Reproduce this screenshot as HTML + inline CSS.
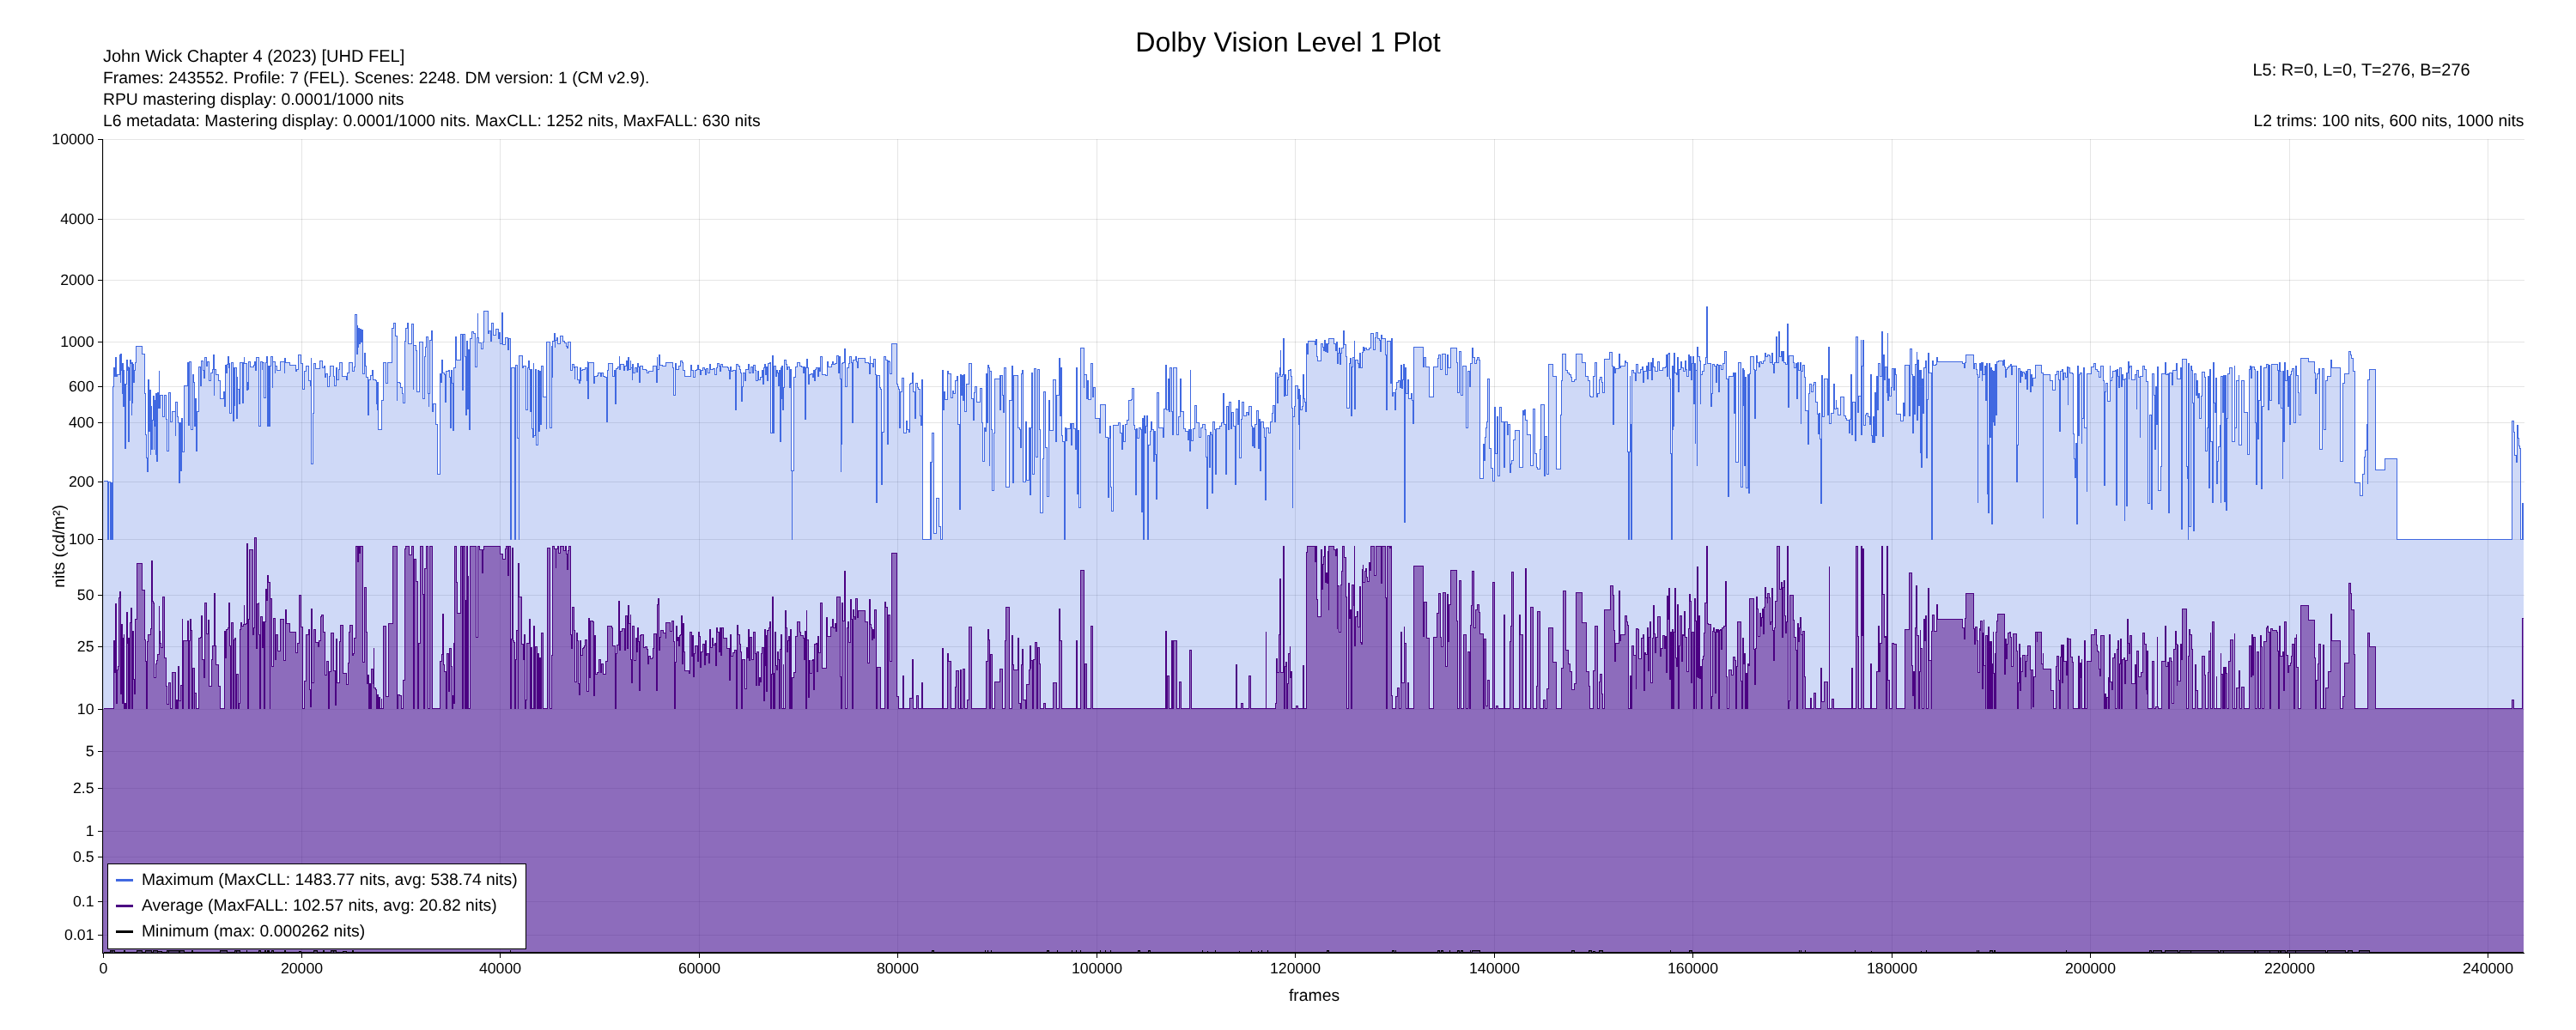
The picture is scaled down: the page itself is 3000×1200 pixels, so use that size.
<!DOCTYPE html><html><head><meta charset="utf-8"><title>Dolby Vision Level 1 Plot</title><style>html,body{margin:0;padding:0;background:#fff}body{width:3000px;height:1200px;overflow:hidden}</style></head><body><svg width="3000" height="1200" viewBox="0 0 3000 1200" style="display:block;will-change:transform;font-family:'Liberation Sans',sans-serif" text-rendering="geometricPrecision">
<rect width="3000" height="1200" fill="#fff"/>
<g shape-rendering="crispEdges" stroke="#000" stroke-opacity="0.1" stroke-width="1">
<path d="M120.5,162V1110"/>
<path d="M351.5,162V1110"/>
<path d="M582.5,162V1110"/>
<path d="M814.5,162V1110"/>
<path d="M1045.5,162V1110"/>
<path d="M1277.5,162V1110"/>
<path d="M1508.5,162V1110"/>
<path d="M1740.5,162V1110"/>
<path d="M1971.5,162V1110"/>
<path d="M2203.5,162V1110"/>
<path d="M2434.5,162V1110"/>
<path d="M2666.5,162V1110"/>
<path d="M2897.5,162V1110"/>
<path d="M120,1089.5H2940"/>
<path d="M120,1050.5H2940"/>
<path d="M120,998.5H2940"/>
<path d="M120,968.5H2940"/>
<path d="M120,918.5H2940"/>
<path d="M120,875.5H2940"/>
<path d="M120,826.5H2940"/>
<path d="M120,753.5H2940"/>
<path d="M120,693.5H2940"/>
<path d="M120,628.5H2940"/>
<path d="M120,561.5H2940"/>
<path d="M120,492.5H2940"/>
<path d="M120,450.5H2940"/>
<path d="M120,398.5H2940"/>
<path d="M120,326.5H2940"/>
<path d="M120,255.5H2940"/>
<path d="M120,162.5H2940"/>
</g>
<path shape-rendering="crispEdges" d="M120,560.5H125.5V628.5H126.5V561.5H128.5V628.5H129.5V562.5H130.5V628.5H131.5V450.5H132.5V428.5H133.5V438.5H134.5V416.5H135.5V438.5H136.5V436.5H138.5V436.5H139.5V413.5H140.5V445.5H140.5V412.5H141.5V431.5H142.5V458.5H142.5V423.5H143.5V473.5H144.5V431.5H144.5V447.5H145.5V522.5H146.5V447.5H147.5V419.5H148.5V431.5H148.5V427.5H149.5V514.5H150.5V428.5H151.5V466.5H151.5V419.5H152.5V423.5H153.5V483.5H153.5V422.5H154.5V469.5H154.5V424.5H155.5V445.5H156.5V431.5H157.5V422.5H158.5V403.5H165.5V412.5H168.5V458.5H169.5V506.5H170.5V533.5H171.5V549.5H172.5V483.5H172.5V442.5H173.5V502.5H174.5V454.5H175.5V529.5H175.5V473.5H176.5V523.5H177.5V489.5H178.5V461.5H179.5V523.5H179.5V466.5H180.5V496.5H181.5V529.5H181.5V458.5H182.5V480.5H182.5V537.5H183.5V457.5H184.5V475.5H185.5V432.5H185.5V475.5H186.5V460.5H189.5V485.5H191.5V460.5H193.5V488.5H194.5V525.5H196.5V457.5H198.5V491.5H200.5V479.5H204.5V507.5H204.5V468.5H206.5V485.5H207.5V492.5H208.5V562.5H209.5V492.5H210.5V548.5H211.5V487.5H212.5V526.5H214.5V449.5H218.5V422.5H219.5V495.5H220.5V421.5H222.5V423.5H222.5V500.5H224.5V436.5H225.5V445.5H226.5V496.5H227.5V464.5H228.5V525.5H229.5V479.5H231.5V427.5H233.5V449.5H234.5V420.5H236.5V431.5H237.5V440.5H238.5V416.5H240.5V426.5H241.5V421.5H243.5V443.5H245.5V434.5H247.5V430.5H248.5V413.5H249.5V460.5H249.5V430.5H251.5V436.5H254.5V443.5H256.5V464.5H260.5V456.5H261.5V473.5H262.5V425.5H263.5V434.5H264.5V424.5H265.5V415.5H266.5V428.5H267.5V423.5H267.5V481.5H269.5V422.5H271.5V490.5H272.5V428.5H273.5V472.5H273.5V428.5H275.5V487.5H276.5V439.5H276.5V453.5H278.5V470.5H279.5V422.5H282.5V469.5H283.5V422.5H284.5V416.5H284.5V423.5H287.5V454.5H288.5V445.5H288.5V453.5H289.5V421.5H291.5V427.5H295.5V425.5H296.5V421.5H297.5V431.5H298.5V416.5H301.5V421.5H301.5V496.5H303.5V421.5H305.5V430.5H305.5V422.5H307.5V463.5H309.5V422.5H310.5V415.5H311.5V496.5H312.5V426.5H313.5V496.5H314.5V426.5H315.5V415.5H317.5V451.5H317.5V421.5H320.5V434.5H320.5V426.5H322.5V431.5H326.5V421.5H331.5V434.5H331.5V417.5H332.5V422.5H337.5V425.5H344.5V432.5H345.5V430.5H347.5V413.5H350.5V423.5H352.5V453.5H354.5V432.5H356.5V426.5H359.5V443.5H361.5V449.5H362.5V417.5H362.5V540.5H364.5V481.5H365.5V423.5H367.5V429.5H372.5V420.5H375.5V428.5H377.5V426.5H378.5V439.5H379.5V435.5H381.5V450.5H383.5V438.5H384.5V426.5H388.5V438.5H389.5V449.5H391.5V428.5H392.5V442.5H394.5V430.5H395.5V422.5H398.5V438.5H403.5V442.5H404.5V434.5H406.5V422.5H410.5V432.5H412.5V427.5H413.5V366.5H415.5V412.5H416.5V379.5H416.5V404.5H417.5V382.5H418.5V400.5H419.5V383.5H420.5V398.5H421.5V384.5H422.5V435.5H424.5V411.5H425.5V426.5H426.5V439.5H428.5V443.5H428.5V483.5H429.5V442.5H431.5V437.5H433.5V431.5H434.5V442.5H437.5V443.5H438.5V470.5H439.5V477.5H439.5V445.5H440.5V500.5H444.5V466.5H446.5V422.5H449.5V446.5H451.5V422.5H456.5V382.5H458.5V376.5H460.5V391.5H462.5V466.5H462.5V445.5H465.5V446.5H466.5V451.5H468.5V458.5H469.5V469.5H471.5V397.5H472.5V382.5H474.5V376.5H475.5V400.5H479.5V377.5H481.5V453.5H481.5V402.5H484.5V408.5H485.5V456.5H488.5V422.5H488.5V398.5H492.5V464.5H494.5V415.5H495.5V404.5H496.5V392.5H498.5V458.5H499.5V473.5H499.5V458.5H500.5V396.5H502.5V385.5H503.5V479.5H504.5V470.5H507.5V494.5H509.5V552.5H512.5V435.5H513.5V445.5H514.5V419.5H515.5V434.5H517.5V436.5H518.5V468.5H519.5V432.5H522.5V431.5H523.5V439.5H524.5V498.5H525.5V431.5H526.5V446.5H527.5V501.5H528.5V428.5H530.5V392.5H531.5V419.5H536.5V389.5H538.5V454.5H539.5V389.5H541.5V415.5H542.5V483.5H543.5V397.5H544.5V476.5H545.5V407.5H546.5V500.5H547.5V394.5H549.5V386.5H551.5V388.5H553.5V427.5H555.5V393.5H556.5V365.5H556.5V393.5H557.5V399.5H560.5V406.5H562.5V398.5H563.5V362.5H568.5V388.5H569.5V385.5H571.5V397.5H572.5V376.5H574.5V390.5H577.5V383.5H580.5V394.5H581.5V387.5H582.5V400.5H584.5V364.5H585.5V401.5H588.5V393.5H591.5V407.5H592.5V394.5H594.5V628.5H595.5V428.5H599.5V628.5H600.5V425.5H602.5V510.5H604.5V628.5H604.5V414.5H608.5V428.5H609.5V426.5H612.5V461.5H612.5V477.5H614.5V428.5H615.5V420.5H616.5V430.5H617.5V479.5H618.5V430.5H619.5V499.5H620.5V509.5H621.5V423.5H621.5V507.5H623.5V430.5H624.5V510.5H624.5V518.5H626.5V431.5H627.5V502.5H628.5V432.5H629.5V494.5H630.5V443.5H630.5V426.5H632.5V462.5H636.5V499.5H636.5V398.5H640.5V498.5H642.5V403.5H643.5V439.5H643.5V397.5H645.5V388.5H646.5V404.5H646.5V396.5H648.5V393.5H649.5V400.5H652.5V391.5H655.5V397.5H657.5V399.5H659.5V403.5H660.5V405.5H661.5V398.5H664.5V426.5H664.5V431.5H666.5V424.5H668.5V428.5H669.5V441.5H669.5V427.5H672.5V442.5H674.5V446.5H675.5V428.5H676.5V443.5H676.5V431.5H678.5V430.5H681.5V428.5H683.5V443.5H684.5V421.5H684.5V464.5H685.5V422.5H691.5V446.5H692.5V438.5H695.5V437.5H696.5V434.5H699.5V438.5H700.5V434.5H702.5V438.5H704.5V439.5H706.5V441.5H706.5V491.5H707.5V431.5H708.5V423.5H713.5V438.5H715.5V431.5H716.5V470.5H717.5V429.5H719.5V427.5H721.5V415.5H721.5V430.5H722.5V424.5H726.5V431.5H727.5V426.5H729.5V420.5H730.5V431.5H731.5V416.5H732.5V430.5H734.5V420.5H734.5V428.5H736.5V442.5H736.5V424.5H737.5V434.5H739.5V428.5H741.5V433.5H742.5V423.5H743.5V427.5H744.5V445.5H745.5V426.5H748.5V430.5H752.5V431.5H753.5V434.5H755.5V432.5H760.5V426.5H764.5V445.5H765.5V416.5H765.5V430.5H767.5V413.5H768.5V425.5H771.5V426.5H775.5V422.5H783.5V428.5H784.5V460.5H786.5V423.5H787.5V430.5H790.5V426.5H792.5V420.5H794.5V422.5H795.5V431.5H797.5V438.5H804.5V425.5H805.5V431.5H807.5V439.5H809.5V431.5H811.5V430.5H812.5V425.5H813.5V430.5H815.5V436.5H816.5V431.5H818.5V428.5H820.5V430.5H821.5V436.5H822.5V429.5H824.5V434.5H826.5V424.5H827.5V430.5H830.5V429.5H832.5V436.5H834.5V428.5H835.5V423.5H837.5V426.5H838.5V432.5H839.5V424.5H841.5V427.5H847.5V428.5H848.5V431.5H849.5V441.5H850.5V427.5H851.5V432.5H853.5V431.5H856.5V477.5H857.5V424.5H859.5V426.5H861.5V430.5H862.5V434.5H863.5V467.5H864.5V450.5H865.5V434.5H867.5V443.5H868.5V430.5H871.5V428.5H871.5V424.5H872.5V434.5H874.5V427.5H876.5V434.5H877.5V425.5H879.5V431.5H880.5V443.5H882.5V432.5H883.5V442.5H885.5V439.5H887.5V431.5H888.5V447.5H889.5V428.5H890.5V424.5H891.5V436.5H892.5V427.5H893.5V443.5H894.5V423.5H896.5V422.5H897.5V504.5H899.5V414.5H900.5V489.5H900.5V504.5H901.5V426.5H903.5V438.5H904.5V431.5H905.5V434.5H906.5V449.5H907.5V431.5H908.5V514.5H909.5V428.5H909.5V464.5H910.5V426.5H911.5V477.5H912.5V451.5H913.5V419.5H915.5V424.5H916.5V430.5H917.5V427.5H919.5V451.5H920.5V430.5H921.5V548.5H922.5V628.5H922.5V548.5H924.5V439.5H926.5V427.5H928.5V422.5H931.5V426.5H933.5V427.5H935.5V434.5H936.5V427.5H937.5V488.5H938.5V428.5H939.5V418.5H940.5V428.5H941.5V447.5H942.5V436.5H944.5V435.5H946.5V439.5H947.5V431.5H948.5V443.5H949.5V430.5H950.5V428.5H952.5V438.5H953.5V428.5H954.5V432.5H955.5V415.5H957.5V436.5H961.5V437.5H963.5V421.5H964.5V427.5H968.5V424.5H969.5V421.5H970.5V424.5H972.5V423.5H974.5V414.5H976.5V434.5H977.5V415.5H978.5V441.5H979.5V549.5H979.5V517.5H980.5V423.5H981.5V422.5H983.5V406.5H984.5V450.5H986.5V428.5H988.5V423.5H989.5V415.5H991.5V422.5H992.5V492.5H993.5V419.5H996.5V415.5H997.5V421.5H998.5V428.5H999.5V417.5H1007.5V422.5H1011.5V423.5H1012.5V435.5H1013.5V415.5H1013.5V423.5H1016.5V427.5H1017.5V418.5H1019.5V436.5H1020.5V585.5H1021.5V437.5H1024.5V451.5H1025.5V453.5H1026.5V564.5H1027.5V503.5H1029.5V415.5H1031.5V419.5H1033.5V517.5H1034.5V420.5H1035.5V421.5H1036.5V435.5H1038.5V400.5H1044.5V447.5H1045.5V450.5H1046.5V453.5H1047.5V498.5H1048.5V456.5H1050.5V440.5H1052.5V492.5H1052.5V504.5H1055.5V490.5H1056.5V500.5H1058.5V503.5H1059.5V447.5H1060.5V446.5H1062.5V434.5H1063.5V456.5H1065.5V487.5H1066.5V446.5H1068.5V451.5H1069.5V453.5H1071.5V484.5H1072.5V495.5H1073.5V442.5H1074.5V628.5H1083.5V538.5H1083.5V628.5H1084.5V538.5H1085.5V504.5H1087.5V621.5H1090.5V580.5H1093.5V613.5H1095.5V628.5H1097.5V431.5H1098.5V477.5H1099.5V456.5H1100.5V465.5H1103.5V432.5H1104.5V435.5H1107.5V463.5H1109.5V455.5H1110.5V458.5H1112.5V443.5H1114.5V438.5H1115.5V494.5H1117.5V593.5H1118.5V436.5H1119.5V460.5H1120.5V437.5H1121.5V466.5H1122.5V436.5H1123.5V479.5H1125.5V447.5H1128.5V423.5H1131.5V464.5H1133.5V489.5H1134.5V457.5H1135.5V450.5H1137.5V468.5H1141.5V452.5H1143.5V492.5H1144.5V537.5H1146.5V498.5H1147.5V502.5H1148.5V435.5H1149.5V492.5H1150.5V425.5H1151.5V428.5H1152.5V542.5H1152.5V432.5H1154.5V500.5H1155.5V571.5H1157.5V504.5H1158.5V441.5H1164.5V437.5H1164.5V477.5H1165.5V437.5H1167.5V460.5H1168.5V480.5H1169.5V428.5H1171.5V567.5H1175.5V466.5H1178.5V426.5H1179.5V562.5H1180.5V437.5H1185.5V498.5H1187.5V500.5H1188.5V521.5H1189.5V435.5H1190.5V431.5H1191.5V561.5H1194.5V491.5H1195.5V559.5H1198.5V498.5H1199.5V576.5H1200.5V498.5H1201.5V434.5H1202.5V552.5H1204.5V429.5H1206.5V532.5H1208.5V430.5H1210.5V500.5H1211.5V597.5H1214.5V534.5H1215.5V456.5H1217.5V521.5H1219.5V578.5H1221.5V466.5H1222.5V501.5H1226.5V442.5H1229.5V514.5H1230.5V460.5H1233.5V417.5H1234.5V484.5H1235.5V428.5H1236.5V507.5H1237.5V514.5H1239.5V628.5H1240.5V498.5H1241.5V513.5H1242.5V499.5H1246.5V493.5H1247.5V518.5H1248.5V493.5H1250.5V499.5H1252.5V523.5H1253.5V428.5H1254.5V575.5H1255.5V501.5H1256.5V591.5H1258.5V405.5H1262.5V451.5H1262.5V436.5H1265.5V464.5H1266.5V443.5H1267.5V465.5H1270.5V423.5H1272.5V462.5H1273.5V451.5H1275.5V487.5H1280.5V504.5H1281.5V471.5H1287.5V502.5H1287.5V509.5H1290.5V579.5H1291.5V510.5H1292.5V496.5H1293.5V567.5H1294.5V595.5H1296.5V495.5H1302.5V492.5H1304.5V504.5H1306.5V523.5H1307.5V495.5H1308.5V514.5H1310.5V494.5H1312.5V489.5H1314.5V466.5H1317.5V465.5H1318.5V452.5H1320.5V495.5H1321.5V500.5H1322.5V576.5H1323.5V499.5H1324.5V510.5H1326.5V498.5H1328.5V500.5H1329.5V596.5H1330.5V487.5H1331.5V628.5H1332.5V484.5H1333.5V504.5H1334.5V496.5H1335.5V484.5H1336.5V628.5H1337.5V518.5H1339.5V502.5H1340.5V491.5H1341.5V500.5H1343.5V537.5H1344.5V502.5H1345.5V529.5H1346.5V581.5H1347.5V457.5H1349.5V498.5H1351.5V498.5H1354.5V509.5H1355.5V476.5H1357.5V425.5H1358.5V477.5H1360.5V441.5H1361.5V479.5H1362.5V428.5H1364.5V479.5H1365.5V506.5H1366.5V428.5H1370.5V506.5H1372.5V485.5H1374.5V441.5H1375.5V479.5H1378.5V499.5H1380.5V502.5H1383.5V512.5H1384.5V500.5H1385.5V525.5H1386.5V431.5H1386.5V500.5H1387.5V513.5H1389.5V499.5H1391.5V472.5H1393.5V492.5H1396.5V509.5H1398.5V498.5H1400.5V494.5H1403.5V500.5H1404.5V532.5H1405.5V592.5H1406.5V507.5H1408.5V544.5H1409.5V503.5H1410.5V506.5H1411.5V574.5H1412.5V491.5H1414.5V500.5H1415.5V552.5H1416.5V499.5H1420.5V496.5H1422.5V492.5H1424.5V458.5H1425.5V494.5H1427.5V552.5H1428.5V473.5H1430.5V500.5H1431.5V468.5H1433.5V499.5H1434.5V480.5H1436.5V496.5H1438.5V564.5H1439.5V476.5H1441.5V494.5H1442.5V466.5H1443.5V533.5H1445.5V488.5H1446.5V468.5H1448.5V484.5H1451.5V480.5H1453.5V483.5H1454.5V473.5H1457.5V496.5H1458.5V519.5H1459.5V498.5H1460.5V521.5H1461.5V494.5H1463.5V478.5H1465.5V522.5H1466.5V488.5H1467.5V548.5H1468.5V491.5H1471.5V498.5H1472.5V509.5H1473.5V582.5H1474.5V498.5H1477.5V504.5H1479.5V491.5H1481.5V481.5H1482.5V472.5H1484.5V491.5H1485.5V434.5H1487.5V469.5H1488.5V439.5H1489.5V436.5H1490.5V428.5H1491.5V408.5H1491.5V438.5H1493.5V436.5H1494.5V394.5H1495.5V461.5H1496.5V436.5H1497.5V460.5H1499.5V442.5H1500.5V431.5H1502.5V430.5H1503.5V438.5H1504.5V475.5H1505.5V591.5H1505.5V485.5H1507.5V473.5H1508.5V449.5H1511.5V464.5H1512.5V494.5H1512.5V453.5H1513.5V523.5H1513.5V460.5H1514.5V477.5H1516.5V473.5H1517.5V436.5H1518.5V464.5H1519.5V468.5H1520.5V479.5H1521.5V400.5H1522.5V412.5H1523.5V397.5H1531.5V401.5H1532.5V395.5H1533.5V415.5H1534.5V420.5H1538.5V400.5H1540.5V404.5H1541.5V408.5H1542.5V396.5H1543.5V409.5H1544.5V400.5H1545.5V410.5H1546.5V400.5H1547.5V394.5H1553.5V400.5H1555.5V408.5H1556.5V398.5H1557.5V423.5H1558.5V411.5H1559.5V405.5H1560.5V424.5H1561.5V411.5H1562.5V405.5H1564.5V385.5H1565.5V401.5H1567.5V415.5H1568.5V475.5H1571.5V423.5H1572.5V417.5H1573.5V484.5H1574.5V427.5H1575.5V416.5H1577.5V397.5H1577.5V476.5H1578.5V419.5H1581.5V423.5H1582.5V428.5H1583.5V411.5H1584.5V428.5H1586.5V410.5H1587.5V404.5H1588.5V408.5H1589.5V405.5H1591.5V407.5H1594.5V405.5H1596.5V388.5H1599.5V407.5H1601.5V393.5H1602.5V387.5H1604.5V394.5H1606.5V396.5H1607.5V409.5H1608.5V390.5H1609.5V394.5H1613.5V413.5H1614.5V477.5H1615.5V397.5H1619.5V446.5H1620.5V394.5H1621.5V461.5H1622.5V457.5H1624.5V477.5H1625.5V453.5H1626.5V445.5H1628.5V443.5H1630.5V451.5H1631.5V425.5H1632.5V452.5H1633.5V442.5H1634.5V424.5H1635.5V608.5H1636.5V428.5H1637.5V458.5H1639.5V442.5H1640.5V464.5H1643.5V458.5H1644.5V466.5H1645.5V493.5H1646.5V404.5H1657.5V427.5H1658.5V416.5H1660.5V427.5H1664.5V462.5H1669.5V427.5H1674.5V417.5H1675.5V413.5H1677.5V430.5H1679.5V412.5H1683.5V436.5H1685.5V413.5H1686.5V428.5H1689.5V405.5H1696.5V422.5H1697.5V457.5H1699.5V409.5H1701.5V460.5H1703.5V426.5H1707.5V498.5H1709.5V432.5H1711.5V450.5H1712.5V423.5H1714.5V405.5H1715.5V416.5H1717.5V423.5H1719.5V419.5H1720.5V416.5H1722.5V419.5H1723.5V557.5H1727.5V517.5H1728.5V536.5H1729.5V509.5H1730.5V498.5H1731.5V491.5H1732.5V441.5H1734.5V522.5H1736.5V545.5H1738.5V560.5H1740.5V474.5H1741.5V528.5H1743.5V485.5H1744.5V554.5H1746.5V474.5H1748.5V491.5H1751.5V544.5H1752.5V491.5H1755.5V506.5H1756.5V494.5H1758.5V550.5H1759.5V540.5H1760.5V536.5H1762.5V512.5H1764.5V501.5H1769.5V544.5H1773.5V478.5H1774.5V483.5H1775.5V477.5H1776.5V489.5H1778.5V506.5H1782.5V542.5H1785.5V476.5H1787.5V528.5H1789.5V544.5H1790.5V546.5H1793.5V523.5H1794.5V471.5H1798.5V554.5H1799.5V508.5H1801.5V552.5H1803.5V424.5H1808.5V438.5H1812.5V546.5H1817.5V483.5H1818.5V443.5H1819.5V412.5H1823.5V431.5H1825.5V434.5H1827.5V436.5H1829.5V439.5H1830.5V444.5H1833.5V442.5H1835.5V412.5H1842.5V422.5H1846.5V438.5H1849.5V443.5H1851.5V461.5H1852.5V462.5H1855.5V438.5H1857.5V422.5H1859.5V462.5H1860.5V458.5H1862.5V442.5H1863.5V439.5H1865.5V445.5H1866.5V457.5H1868.5V418.5H1874.5V410.5H1877.5V426.5H1878.5V494.5H1879.5V427.5H1880.5V434.5H1881.5V429.5H1885.5V412.5H1886.5V428.5H1887.5V426.5H1892.5V420.5H1893.5V422.5H1895.5V526.5H1896.5V628.5H1897.5V526.5H1898.5V438.5H1898.5V494.5H1899.5V628.5H1900.5V431.5H1902.5V434.5H1904.5V443.5H1905.5V424.5H1907.5V434.5H1910.5V430.5H1912.5V427.5H1913.5V445.5H1914.5V432.5H1917.5V426.5H1918.5V441.5H1919.5V422.5H1920.5V431.5H1922.5V422.5H1923.5V442.5H1924.5V417.5H1925.5V427.5H1927.5V432.5H1930.5V421.5H1932.5V431.5H1936.5V428.5H1939.5V427.5H1940.5V413.5H1941.5V438.5H1942.5V412.5H1943.5V411.5H1944.5V441.5H1945.5V528.5H1946.5V628.5H1947.5V426.5H1948.5V500.5H1948.5V496.5H1949.5V411.5H1950.5V434.5H1952.5V436.5H1953.5V416.5H1954.5V456.5H1955.5V430.5H1957.5V421.5H1958.5V428.5H1960.5V432.5H1962.5V420.5H1963.5V430.5H1964.5V438.5H1966.5V413.5H1967.5V431.5H1968.5V415.5H1969.5V442.5H1970.5V423.5H1971.5V415.5H1972.5V470.5H1973.5V423.5H1974.5V516.5H1974.5V431.5H1976.5V542.5H1976.5V404.5H1977.5V415.5H1979.5V420.5H1980.5V470.5H1980.5V436.5H1982.5V432.5H1984.5V424.5H1986.5V416.5H1987.5V357.5H1988.5V423.5H1992.5V446.5H1992.5V473.5H1993.5V458.5H1994.5V424.5H1996.5V426.5H1998.5V445.5H1999.5V424.5H2000.5V425.5H2001.5V456.5H2002.5V425.5H2004.5V430.5H2006.5V423.5H2008.5V409.5H2010.5V441.5H2012.5V578.5H2013.5V438.5H2018.5V434.5H2019.5V481.5H2020.5V434.5H2021.5V538.5H2024.5V422.5H2027.5V438.5H2027.5V567.5H2029.5V429.5H2030.5V472.5H2030.5V431.5H2031.5V542.5H2032.5V439.5H2033.5V568.5H2035.5V436.5H2036.5V574.5H2037.5V435.5H2038.5V415.5H2042.5V430.5H2043.5V487.5H2044.5V431.5H2045.5V414.5H2046.5V422.5H2048.5V427.5H2049.5V421.5H2051.5V423.5H2053.5V420.5H2055.5V411.5H2056.5V415.5H2058.5V413.5H2060.5V414.5H2061.5V422.5H2063.5V411.5H2064.5V424.5H2065.5V434.5H2066.5V422.5H2068.5V392.5H2069.5V422.5H2071.5V386.5H2072.5V415.5H2074.5V409.5H2075.5V420.5H2076.5V409.5H2077.5V422.5H2079.5V424.5H2081.5V377.5H2082.5V474.5H2083.5V414.5H2088.5V422.5H2089.5V428.5H2091.5V423.5H2092.5V464.5H2093.5V422.5H2094.5V431.5H2096.5V422.5H2097.5V493.5H2097.5V432.5H2099.5V425.5H2101.5V439.5H2102.5V478.5H2105.5V481.5H2105.5V517.5H2106.5V458.5H2107.5V447.5H2109.5V456.5H2111.5V448.5H2112.5V445.5H2114.5V468.5H2116.5V482.5H2117.5V505.5H2118.5V481.5H2119.5V511.5H2120.5V586.5H2121.5V437.5H2122.5V485.5H2124.5V441.5H2128.5V483.5H2129.5V404.5H2130.5V493.5H2132.5V481.5H2135.5V447.5H2136.5V476.5H2138.5V466.5H2138.5V475.5H2140.5V483.5H2143.5V462.5H2147.5V484.5H2149.5V487.5H2150.5V489.5H2153.5V504.5H2154.5V488.5H2155.5V436.5H2156.5V506.5H2157.5V468.5H2160.5V513.5H2161.5V392.5H2163.5V480.5H2164.5V461.5H2167.5V396.5H2167.5V506.5H2168.5V426.5H2169.5V396.5H2170.5V495.5H2172.5V483.5H2173.5V481.5H2175.5V485.5H2177.5V494.5H2178.5V436.5H2179.5V507.5H2179.5V507.5H2180.5V515.5H2181.5V485.5H2182.5V515.5H2183.5V457.5H2184.5V507.5H2185.5V438.5H2186.5V477.5H2187.5V423.5H2189.5V438.5H2191.5V386.5H2192.5V508.5H2193.5V413.5H2194.5V442.5H2195.5V427.5H2197.5V457.5H2198.5V388.5H2198.5V466.5H2199.5V441.5H2200.5V461.5H2202.5V451.5H2203.5V429.5H2205.5V454.5H2206.5V429.5H2207.5V436.5H2208.5V482.5H2213.5V490.5H2216.5V469.5H2217.5V484.5H2218.5V425.5H2223.5V484.5H2224.5V406.5H2226.5V436.5H2227.5V504.5H2228.5V438.5H2229.5V482.5H2230.5V428.5H2230.5V424.5H2232.5V410.5H2232.5V489.5H2233.5V419.5H2234.5V472.5H2235.5V431.5H2236.5V527.5H2237.5V431.5H2237.5V544.5H2238.5V441.5H2239.5V481.5H2240.5V428.5H2242.5V420.5H2243.5V533.5H2244.5V465.5H2245.5V411.5H2246.5V434.5H2249.5V628.5H2250.5V420.5H2251.5V425.5H2254.5V424.5H2255.5V416.5H2256.5V421.5H2285.5V423.5H2287.5V428.5H2288.5V422.5H2289.5V413.5H2298.5V429.5H2299.5V423.5H2301.5V430.5H2302.5V436.5H2303.5V585.5H2303.5V439.5H2305.5V423.5H2306.5V431.5H2307.5V422.5H2308.5V443.5H2308.5V422.5H2309.5V436.5H2311.5V426.5H2312.5V466.5H2313.5V423.5H2314.5V575.5H2315.5V518.5H2315.5V597.5H2316.5V423.5H2317.5V509.5H2318.5V428.5H2319.5V610.5H2320.5V431.5H2320.5V491.5H2321.5V432.5H2322.5V495.5H2323.5V424.5H2324.5V483.5H2325.5V421.5H2327.5V420.5H2332.5V425.5H2333.5V419.5H2334.5V427.5H2335.5V439.5H2336.5V430.5H2337.5V428.5H2339.5V426.5H2341.5V424.5H2342.5V436.5H2343.5V426.5H2348.5V460.5H2348.5V561.5H2349.5V518.5H2350.5V429.5H2352.5V445.5H2353.5V432.5H2354.5V438.5H2355.5V433.5H2357.5V435.5H2358.5V441.5H2359.5V432.5H2360.5V453.5H2361.5V430.5H2364.5V456.5H2365.5V436.5H2366.5V449.5H2367.5V440.5H2370.5V425.5H2377.5V434.5H2379.5V603.5H2379.5V436.5H2387.5V443.5H2390.5V454.5H2393.5V436.5H2395.5V432.5H2397.5V442.5H2398.5V502.5H2399.5V432.5H2401.5V430.5H2402.5V442.5H2403.5V434.5H2405.5V439.5H2407.5V427.5H2408.5V471.5H2408.5V428.5H2410.5V434.5H2413.5V435.5H2414.5V505.5H2415.5V534.5H2416.5V556.5H2417.5V516.5H2418.5V610.5H2419.5V426.5H2420.5V507.5H2421.5V436.5H2422.5V434.5H2424.5V516.5H2424.5V487.5H2426.5V428.5H2427.5V498.5H2429.5V498.5H2430.5V572.5H2430.5V435.5H2435.5V427.5H2438.5V423.5H2440.5V430.5H2442.5V432.5H2444.5V439.5H2446.5V426.5H2449.5V443.5H2450.5V565.5H2451.5V456.5H2452.5V446.5H2454.5V467.5H2457.5V426.5H2457.5V443.5H2459.5V439.5H2460.5V432.5H2463.5V431.5H2464.5V588.5H2465.5V430.5H2466.5V438.5H2467.5V451.5H2468.5V428.5H2470.5V450.5H2471.5V436.5H2472.5V442.5H2474.5V606.5H2474.5V441.5H2476.5V434.5H2476.5V589.5H2477.5V434.5H2478.5V421.5H2479.5V441.5H2479.5V428.5H2480.5V426.5H2482.5V442.5H2486.5V436.5H2488.5V476.5H2488.5V431.5H2490.5V439.5H2492.5V509.5H2492.5V438.5H2495.5V426.5H2497.5V430.5H2499.5V444.5H2501.5V586.5H2503.5V483.5H2505.5V593.5H2506.5V435.5H2508.5V460.5H2509.5V523.5H2510.5V450.5H2511.5V494.5H2512.5V427.5H2513.5V571.5H2516.5V543.5H2517.5V435.5H2521.5V422.5H2522.5V436.5H2524.5V435.5H2525.5V597.5H2526.5V434.5H2529.5V448.5H2530.5V431.5H2534.5V423.5H2535.5V441.5H2538.5V441.5H2539.5V428.5H2540.5V616.5H2541.5V418.5H2546.5V543.5H2547.5V557.5H2548.5V628.5H2548.5V423.5H2549.5V613.5H2551.5V426.5H2552.5V431.5H2553.5V469.5H2554.5V618.5H2555.5V534.5H2555.5V435.5H2557.5V460.5H2558.5V443.5H2559.5V463.5H2560.5V458.5H2561.5V487.5H2563.5V461.5H2564.5V433.5H2567.5V439.5H2568.5V525.5H2570.5V498.5H2571.5V438.5H2572.5V568.5H2573.5V430.5H2574.5V514.5H2576.5V585.5H2577.5V422.5H2578.5V469.5H2579.5V480.5H2580.5V440.5H2581.5V563.5H2582.5V537.5H2583.5V520.5H2585.5V495.5H2586.5V585.5H2586.5V438.5H2588.5V480.5H2589.5V437.5H2590.5V584.5H2591.5V437.5H2592.5V594.5H2593.5V487.5H2594.5V435.5H2596.5V428.5H2599.5V514.5H2602.5V426.5H2602.5V498.5H2604.5V443.5H2607.5V437.5H2607.5V518.5H2610.5V443.5H2613.5V480.5H2617.5V529.5H2619.5V430.5H2620.5V426.5H2621.5V440.5H2622.5V427.5H2625.5V430.5H2626.5V492.5H2627.5V564.5H2628.5V432.5H2629.5V511.5H2630.5V466.5H2632.5V426.5H2633.5V569.5H2634.5V473.5H2636.5V428.5H2639.5V424.5H2641.5V477.5H2642.5V425.5H2643.5V466.5H2645.5V424.5H2652.5V431.5H2653.5V470.5H2654.5V422.5H2655.5V432.5H2656.5V475.5H2658.5V557.5H2658.5V432.5H2659.5V514.5H2660.5V422.5H2661.5V443.5H2663.5V431.5H2664.5V473.5H2665.5V438.5H2666.5V494.5H2667.5V436.5H2668.5V432.5H2669.5V429.5H2671.5V492.5H2673.5V426.5H2674.5V437.5H2676.5V457.5H2677.5V483.5H2679.5V417.5H2688.5V421.5H2695.5V434.5H2696.5V458.5H2697.5V441.5H2698.5V435.5H2700.5V429.5H2701.5V490.5H2701.5V523.5H2704.5V429.5H2706.5V500.5H2708.5V443.5H2710.5V438.5H2714.5V419.5H2715.5V428.5H2725.5V537.5H2728.5V446.5H2730.5V435.5H2735.5V409.5H2737.5V413.5H2738.5V417.5H2740.5V432.5H2742.5V562.5H2748.5V577.5H2751.5V552.5H2753.5V532.5H2754.5V524.5H2756.5V494.5H2757.5V563.5H2757.5V442.5H2759.5V430.5H2766.5V547.5H2777.5V534.5H2791.5V628.5H2925.5V490.5H2927.5V503.5H2928.5V530.5H2930.5V538.5H2931.5V495.5H2932.5V510.5H2933.5V519.5H2934.5V522.5H2935.5V628.5H2937.5V586.5H2938.5V628.5H2939V1110H120Z" fill="rgb(65,105,225)" fill-opacity="0.25" stroke="none"/>
<path shape-rendering="crispEdges" d="M120.5,560.5H125.5V628.5H126.5V561.5H128.5V628.5H129.5V562.5H130.5V628.5H131.5V450.5H132.5V428.5H133.5V438.5H134.5V416.5H135.5V438.5H136.5V436.5H138.5V436.5H139.5V413.5H140.5V446H140.5V412.5H141.5V431.5H142.5V459H142.5V423.5H143.5V473.5H144.5V431H144.5V447.5H145.5V522.5H146.5V447.5H147.5V419.5H148.5V432H148.5V427.5H149.5V514.5H150.5V428.5H151.5V467H151.5V419.5H152.5V423.5H153.5V484H153.5V422.5H154.5V470H154.5V424.5H155.5V445.5H156.5V431.5H157.5V422.5H158.5V403.5H165.5V412.5H168.5V458.5H169.5V506.5H170.5V533.5H171.5V549.5H172.5V483.5H172.5V442.5H173.5V502.5H174.5V454.5H175.5V530H175.5V473.5H176.5V523.5H177.5V489.5H178.5V461.5H179.5V524H179.5V466.5H180.5V496.5H181.5V530H181.5V458.5H182.5V480.5H182.5V537.5H183.5V457.5H184.5V475.5H185.5V432H185.5V475.5H186.5V460.5H189.5V485.5H191.5V460.5H193.5V488.5H194.5V525.5H196.5V457.5H198.5V491.5H200.5V479.5H204.5V508H204.5V468.5H206.5V485.5H207.5V492.5H208.5V562.5H209.5V492.5H210.5V548.5H211.5V487.5H212.5V526.5H214.5V449.5H218.5V422.5H219.5V495.5H220.5V421.5H222.5V423.5H222.5V500.5H224.5V436.5H225.5V445.5H226.5V496.5H227.5V464.5H228.5V525.5H229.5V479.5H231.5V427.5H233.5V449.5H234.5V420.5H236.5V431.5H237.5V440.5H238.5V416.5H240.5V426.5H241.5V421.5H243.5V443.5H245.5V434.5H247.5V430.5H248.5V413.5H249.5V461H249.5V430.5H251.5V436.5H254.5V443.5H256.5V464.5H260.5V456.5H261.5V473.5H262.5V425.5H263.5V434.5H264.5V424.5H265.5V415.5H266.5V428.5H267.5V423H267.5V481.5H269.5V422.5H271.5V490.5H272.5V428.5H273.5V473H273.5V428.5H275.5V487.5H276.5V439H276.5V453.5H278.5V470.5H279.5V422.5H282.5V469.5H283.5V422.5H284.5V416H284.5V423.5H287.5V454.5H288.5V445H288.5V453.5H289.5V421.5H291.5V427.5H295.5V425.5H296.5V421.5H297.5V431.5H298.5V416.5H301.5V421.5H301.5V496.5H303.5V421.5H305.5V431H305.5V422.5H307.5V463.5H309.5V422.5H310.5V415.5H311.5V496.5H312.5V426.5H313.5V496.5H314.5V426.5H315.5V415.5H317.5V452H317.5V421.5H320.5V435H320.5V426.5H322.5V431.5H326.5V421.5H331.5V435H331.5V417.5H332.5V422.5H337.5V425.5H344.5V432.5H345.5V430.5H347.5V413.5H350.5V423.5H352.5V453.5H354.5V432.5H356.5V426.5H359.5V443.5H361.5V449.5H362.5V417H362.5V540.5H364.5V481.5H365.5V423.5H367.5V429.5H372.5V420.5H375.5V428.5H377.5V426.5H378.5V439.5H379.5V435.5H381.5V450.5H383.5V438.5H384.5V426.5H388.5V438.5H389.5V449.5H391.5V428.5H392.5V442.5H394.5V430.5H395.5V422.5H398.5V438.5H403.5V442.5H404.5V434.5H406.5V422.5H410.5V432.5H412.5V427.5H413.5V366.5H415.5V412.5H416.5V379H416.5V404.5H417.5V382.5H418.5V400.5H419.5V383.5H420.5V398.5H421.5V384.5H422.5V435.5H424.5V411.5H425.5V426.5H426.5V439.5H428.5V443.5H428.5V483.5H429.5V442.5H431.5V437.5H433.5V431.5H434.5V442.5H437.5V443.5H438.5V470.5H439.5V478H439.5V445.5H440.5V500.5H444.5V466.5H446.5V422.5H449.5V446.5H451.5V422.5H456.5V382.5H458.5V376.5H460.5V391.5H462.5V467H462.5V445.5H465.5V446.5H466.5V451.5H468.5V458.5H469.5V469.5H471.5V397.5H472.5V382.5H474.5V376.5H475.5V400.5H479.5V377.5H481.5V454H481.5V402.5H484.5V408.5H485.5V456.5H488.5V422.5H488.5V398.5H492.5V464.5H494.5V415.5H495.5V404.5H496.5V392.5H498.5V458.5H499.5V474H499.5V458.5H500.5V396.5H502.5V385.5H503.5V479.5H504.5V470.5H507.5V494.5H509.5V552.5H512.5V435.5H513.5V445.5H514.5V419.5H515.5V434.5H517.5V436.5H518.5V468.5H519.5V432.5H522.5V431.5H523.5V439.5H524.5V498.5H525.5V431.5H526.5V446.5H527.5V501.5H528.5V428.5H530.5V392.5H531.5V419.5H536.5V389.5H538.5V454.5H539.5V389.5H541.5V415.5H542.5V483.5H543.5V397.5H544.5V476.5H545.5V407.5H546.5V500.5H547.5V394.5H549.5V386.5H551.5V388.5H553.5V427.5H555.5V393.5H556.5V365H556.5V393.5H557.5V399.5H560.5V406.5H562.5V398.5H563.5V362.5H568.5V388.5H569.5V385.5H571.5V397.5H572.5V376.5H574.5V390.5H577.5V383.5H580.5V394.5H581.5V387.5H582.5V400.5H584.5V364.5H585.5V401.5H588.5V393.5H591.5V407.5H592.5V394.5H594.5V628.5H595.5V428.5H599.5V628.5H600.5V425.5H602.5V510.5H604.5V629H604.5V414.5H608.5V428.5H609.5V426.5H612.5V461.5H612.5V477.5H614.5V428.5H615.5V420.5H616.5V430.5H617.5V479.5H618.5V430.5H619.5V499.5H620.5V509.5H621.5V423H621.5V507.5H623.5V430.5H624.5V510.5H624.5V518.5H626.5V431.5H627.5V502.5H628.5V432.5H629.5V494.5H630.5V443.5H630.5V426.5H632.5V462.5H636.5V500H636.5V398.5H640.5V498.5H642.5V403.5H643.5V440H643.5V397.5H645.5V388.5H646.5V405H646.5V396.5H648.5V393.5H649.5V400.5H652.5V391.5H655.5V397.5H657.5V399.5H659.5V403.5H660.5V405.5H661.5V398.5H664.5V426.5H664.5V431.5H666.5V424.5H668.5V428.5H669.5V442H669.5V427.5H672.5V442.5H674.5V446.5H675.5V428.5H676.5V444H676.5V431.5H678.5V430.5H681.5V428.5H683.5V443.5H684.5V421H684.5V464.5H685.5V422.5H691.5V446.5H692.5V438.5H695.5V437.5H696.5V434.5H699.5V438.5H700.5V434.5H702.5V438.5H704.5V439.5H706.5V441.5H706.5V491.5H707.5V431.5H708.5V423.5H713.5V438.5H715.5V431.5H716.5V470.5H717.5V429.5H719.5V427.5H721.5V415H721.5V430.5H722.5V424.5H726.5V431.5H727.5V426.5H729.5V420.5H730.5V431.5H731.5V416.5H732.5V430.5H734.5V420H734.5V428.5H736.5V443H736.5V424.5H737.5V434.5H739.5V428.5H741.5V433.5H742.5V423.5H743.5V427.5H744.5V445.5H745.5V426.5H748.5V430.5H752.5V431.5H753.5V434.5H755.5V432.5H760.5V426.5H764.5V445.5H765.5V416H765.5V430.5H767.5V413.5H768.5V425.5H771.5V426.5H775.5V422.5H783.5V428.5H784.5V460.5H786.5V423.5H787.5V430.5H790.5V426.5H792.5V420.5H794.5V422.5H795.5V431.5H797.5V438.5H804.5V425.5H805.5V431.5H807.5V439.5H809.5V431.5H811.5V430.5H812.5V425.5H813.5V430.5H815.5V436.5H816.5V431.5H818.5V428.5H820.5V430.5H821.5V436.5H822.5V429.5H824.5V434.5H826.5V424.5H827.5V430.5H830.5V429.5H832.5V436.5H834.5V428.5H835.5V423.5H837.5V426.5H838.5V432.5H839.5V424.5H841.5V427.5H847.5V428.5H848.5V431.5H849.5V441.5H850.5V427.5H851.5V432.5H853.5V431.5H856.5V477.5H857.5V424.5H859.5V426.5H861.5V430.5H862.5V434.5H863.5V467.5H864.5V450.5H865.5V434.5H867.5V443.5H868.5V430.5H871.5V428.5H871.5V424.5H872.5V434.5H874.5V427.5H876.5V434.5H877.5V425.5H879.5V431.5H880.5V443.5H882.5V432.5H883.5V442.5H885.5V439.5H887.5V431.5H888.5V447.5H889.5V428.5H890.5V424.5H891.5V436.5H892.5V427.5H893.5V443.5H894.5V423.5H896.5V422.5H897.5V504.5H899.5V414.5H900.5V489.5H900.5V504.5H901.5V426.5H903.5V438.5H904.5V431.5H905.5V434.5H906.5V449.5H907.5V431.5H908.5V514.5H909.5V428H909.5V464.5H910.5V426.5H911.5V477.5H912.5V451.5H913.5V419.5H915.5V424.5H916.5V430.5H917.5V427.5H919.5V451.5H920.5V430.5H921.5V548.5H922.5V629H922.5V548.5H924.5V439.5H926.5V427.5H928.5V422.5H931.5V426.5H933.5V427.5H935.5V434.5H936.5V427.5H937.5V488.5H938.5V428.5H939.5V418.5H940.5V428.5H941.5V447.5H942.5V436.5H944.5V435.5H946.5V439.5H947.5V431.5H948.5V443.5H949.5V430.5H950.5V428.5H952.5V438.5H953.5V428.5H954.5V432.5H955.5V415.5H957.5V436.5H961.5V437.5H963.5V421.5H964.5V427.5H968.5V424.5H969.5V421.5H970.5V424.5H972.5V423.5H974.5V414.5H976.5V434.5H977.5V415.5H978.5V441.5H979.5V550H979.5V517.5H980.5V423.5H981.5V422.5H983.5V406.5H984.5V450.5H986.5V428.5H988.5V423.5H989.5V415.5H991.5V422.5H992.5V492.5H993.5V419.5H996.5V415.5H997.5V421.5H998.5V428.5H999.5V417.5H1007.5V422.5H1011.5V423.5H1012.5V435.5H1013.5V415H1013.5V423.5H1016.5V427.5H1017.5V418.5H1019.5V436.5H1020.5V585.5H1021.5V437.5H1024.5V451.5H1025.5V453.5H1026.5V564.5H1027.5V503.5H1029.5V415.5H1031.5V419.5H1033.5V517.5H1034.5V420.5H1035.5V421.5H1036.5V435.5H1038.5V400.5H1044.5V447.5H1045.5V450.5H1046.5V453.5H1047.5V498.5H1048.5V456.5H1050.5V440.5H1052.5V492.5H1052.5V504.5H1055.5V490.5H1056.5V500.5H1058.5V503.5H1059.5V447.5H1060.5V446.5H1062.5V434.5H1063.5V456.5H1065.5V487.5H1066.5V446.5H1068.5V451.5H1069.5V453.5H1071.5V484.5H1072.5V495.5H1073.5V442.5H1074.5V628.5H1083.5V538H1083.5V628.5H1084.5V538.5H1085.5V504.5H1087.5V621.5H1090.5V580.5H1093.5V613.5H1095.5V628.5H1097.5V431.5H1098.5V477.5H1099.5V456.5H1100.5V465.5H1103.5V432.5H1104.5V435.5H1107.5V463.5H1109.5V455.5H1110.5V458.5H1112.5V443.5H1114.5V438.5H1115.5V494.5H1117.5V593.5H1118.5V436.5H1119.5V460.5H1120.5V437.5H1121.5V466.5H1122.5V436.5H1123.5V479.5H1125.5V447.5H1128.5V423.5H1131.5V464.5H1133.5V489.5H1134.5V457.5H1135.5V450.5H1137.5V468.5H1141.5V452.5H1143.5V492.5H1144.5V537.5H1146.5V498.5H1147.5V502.5H1148.5V435.5H1149.5V492.5H1150.5V425.5H1151.5V428.5H1152.5V543H1152.5V432.5H1154.5V500.5H1155.5V571.5H1157.5V504.5H1158.5V441.5H1164.5V437H1164.5V477.5H1165.5V437.5H1167.5V460.5H1168.5V480.5H1169.5V428.5H1171.5V567.5H1175.5V466.5H1178.5V426.5H1179.5V562.5H1180.5V437.5H1185.5V498.5H1187.5V500.5H1188.5V521.5H1189.5V435.5H1190.5V431.5H1191.5V561.5H1194.5V491.5H1195.5V559.5H1198.5V498.5H1199.5V576.5H1200.5V498.5H1201.5V434.5H1202.5V552.5H1204.5V429.5H1206.5V532.5H1208.5V430.5H1210.5V500.5H1211.5V597.5H1214.5V534.5H1215.5V456.5H1217.5V521.5H1219.5V578.5H1221.5V466.5H1222.5V501.5H1226.5V442.5H1229.5V514.5H1230.5V460.5H1233.5V417.5H1234.5V484.5H1235.5V428.5H1236.5V507.5H1237.5V514.5H1239.5V628.5H1240.5V498.5H1241.5V513.5H1242.5V499.5H1246.5V493.5H1247.5V518.5H1248.5V493.5H1250.5V499.5H1252.5V523.5H1253.5V428.5H1254.5V575.5H1255.5V501.5H1256.5V591.5H1258.5V405.5H1262.5V452H1262.5V436.5H1265.5V464.5H1266.5V443.5H1267.5V465.5H1270.5V423.5H1272.5V462.5H1273.5V451.5H1275.5V487.5H1280.5V504.5H1281.5V471.5H1287.5V502.5H1287.5V509.5H1290.5V579.5H1291.5V510.5H1292.5V496.5H1293.5V567.5H1294.5V595.5H1296.5V495.5H1302.5V492.5H1304.5V504.5H1306.5V523.5H1307.5V495.5H1308.5V514.5H1310.5V494.5H1312.5V489.5H1314.5V466.5H1317.5V465.5H1318.5V452.5H1320.5V495.5H1321.5V500.5H1322.5V576.5H1323.5V499.5H1324.5V510.5H1326.5V498.5H1328.5V500.5H1329.5V596.5H1330.5V487.5H1331.5V628.5H1332.5V484.5H1333.5V504.5H1334.5V496.5H1335.5V484.5H1336.5V628.5H1337.5V518.5H1339.5V502.5H1340.5V491.5H1341.5V500.5H1343.5V537.5H1344.5V502.5H1345.5V529.5H1346.5V581.5H1347.5V457.5H1349.5V498.5H1351.5V498.5H1354.5V509.5H1355.5V476.5H1357.5V425.5H1358.5V477.5H1360.5V441.5H1361.5V479.5H1362.5V428.5H1364.5V479.5H1365.5V506.5H1366.5V428.5H1370.5V506.5H1372.5V485.5H1374.5V441.5H1375.5V479.5H1378.5V499.5H1380.5V502.5H1383.5V512.5H1384.5V500.5H1385.5V525.5H1386.5V431H1386.5V500.5H1387.5V513.5H1389.5V499.5H1391.5V472.5H1393.5V492.5H1396.5V509.5H1398.5V498.5H1400.5V494.5H1403.5V500.5H1404.5V532.5H1405.5V592.5H1406.5V507.5H1408.5V544.5H1409.5V503.5H1410.5V506.5H1411.5V574.5H1412.5V491.5H1414.5V500.5H1415.5V552.5H1416.5V499.5H1420.5V496.5H1422.5V492.5H1424.5V458.5H1425.5V494.5H1427.5V552.5H1428.5V473.5H1430.5V500.5H1431.5V468.5H1433.5V499.5H1434.5V480.5H1436.5V496.5H1438.5V564.5H1439.5V476.5H1441.5V494.5H1442.5V466.5H1443.5V533.5H1445.5V488.5H1446.5V468.5H1448.5V484.5H1451.5V480.5H1453.5V483.5H1454.5V473.5H1457.5V496.5H1458.5V519.5H1459.5V498.5H1460.5V521.5H1461.5V494.5H1463.5V478.5H1465.5V522.5H1466.5V488.5H1467.5V548.5H1468.5V491.5H1471.5V498.5H1472.5V509.5H1473.5V582.5H1474.5V498.5H1477.5V504.5H1479.5V491.5H1481.5V481.5H1482.5V472.5H1484.5V491.5H1485.5V434.5H1487.5V469.5H1488.5V439.5H1489.5V436.5H1490.5V428.5H1491.5V408H1491.5V438.5H1493.5V436.5H1494.5V394.5H1495.5V461.5H1496.5V436.5H1497.5V460.5H1499.5V442.5H1500.5V431.5H1502.5V430.5H1503.5V438.5H1504.5V475.5H1505.5V592H1505.5V485.5H1507.5V473.5H1508.5V449.5H1511.5V464.5H1512.5V495H1512.5V453.5H1513.5V524H1513.5V460.5H1514.5V477.5H1516.5V473.5H1517.5V436.5H1518.5V464.5H1519.5V468.5H1520.5V479.5H1521.5V400.5H1522.5V412.5H1523.5V397.5H1531.5V401.5H1532.5V395.5H1533.5V415.5H1534.5V420.5H1538.5V400.5H1540.5V404.5H1541.5V408.5H1542.5V396.5H1543.5V409.5H1544.5V400.5H1545.5V410.5H1546.5V400.5H1547.5V394.5H1553.5V400.5H1555.5V408.5H1556.5V398.5H1557.5V423.5H1558.5V411.5H1559.5V405.5H1560.5V424.5H1561.5V411.5H1562.5V405.5H1564.5V385.5H1565.5V401.5H1567.5V415.5H1568.5V475.5H1571.5V423.5H1572.5V417.5H1573.5V484.5H1574.5V427.5H1575.5V416.5H1577.5V397H1577.5V476.5H1578.5V419.5H1581.5V423.5H1582.5V428.5H1583.5V411.5H1584.5V428.5H1586.5V410.5H1587.5V404.5H1588.5V408.5H1589.5V405.5H1591.5V407.5H1594.5V405.5H1596.5V388.5H1599.5V407.5H1601.5V393.5H1602.5V387.5H1604.5V394.5H1606.5V396.5H1607.5V409.5H1608.5V390.5H1609.5V394.5H1613.5V413.5H1614.5V477.5H1615.5V397.5H1619.5V446.5H1620.5V394.5H1621.5V461.5H1622.5V457.5H1624.5V477.5H1625.5V453.5H1626.5V445.5H1628.5V443.5H1630.5V451.5H1631.5V425.5H1632.5V452.5H1633.5V442.5H1634.5V424.5H1635.5V608.5H1636.5V428.5H1637.5V458.5H1639.5V442.5H1640.5V464.5H1643.5V458.5H1644.5V466.5H1645.5V493.5H1646.5V404.5H1657.5V427.5H1658.5V416.5H1660.5V427.5H1664.5V462.5H1669.5V427.5H1674.5V417.5H1675.5V413.5H1677.5V430.5H1679.5V412.5H1683.5V436.5H1685.5V413.5H1686.5V428.5H1689.5V405.5H1696.5V422.5H1697.5V457.5H1699.5V409.5H1701.5V460.5H1703.5V426.5H1707.5V498.5H1709.5V432.5H1711.5V450.5H1712.5V423.5H1714.5V405.5H1715.5V416.5H1717.5V423.5H1719.5V419.5H1720.5V416.5H1722.5V419.5H1723.5V557.5H1727.5V517.5H1728.5V536.5H1729.5V509.5H1730.5V498.5H1731.5V491.5H1732.5V441.5H1734.5V522.5H1736.5V545.5H1738.5V560.5H1740.5V474.5H1741.5V528.5H1743.5V485.5H1744.5V554.5H1746.5V474.5H1748.5V491.5H1751.5V544.5H1752.5V491.5H1755.5V506.5H1756.5V494.5H1758.5V550.5H1759.5V540.5H1760.5V536.5H1762.5V512.5H1764.5V501.5H1769.5V544.5H1773.5V478.5H1774.5V483.5H1775.5V477.5H1776.5V489.5H1778.5V506.5H1782.5V542.5H1785.5V476.5H1787.5V528.5H1789.5V544.5H1790.5V546.5H1793.5V523.5H1794.5V471.5H1798.5V554.5H1799.5V508.5H1801.5V552.5H1803.5V424.5H1808.5V438.5H1812.5V546.5H1817.5V483.5H1818.5V443.5H1819.5V412.5H1823.5V431.5H1825.5V434.5H1827.5V436.5H1829.5V439.5H1830.5V444.5H1833.5V442.5H1835.5V412.5H1842.5V422.5H1846.5V438.5H1849.5V443.5H1851.5V461.5H1852.5V462.5H1855.5V438.5H1857.5V422.5H1859.5V462.5H1860.5V458.5H1862.5V442.5H1863.5V439.5H1865.5V445.5H1866.5V457.5H1868.5V418.5H1874.5V410.5H1877.5V426.5H1878.5V494.5H1879.5V427.5H1880.5V434.5H1881.5V429.5H1885.5V412.5H1886.5V428.5H1887.5V426.5H1892.5V420.5H1893.5V422.5H1895.5V526.5H1896.5V628.5H1897.5V526.5H1898.5V438H1898.5V494.5H1899.5V628.5H1900.5V431.5H1902.5V434.5H1904.5V443.5H1905.5V424.5H1907.5V434.5H1910.5V430.5H1912.5V427.5H1913.5V445.5H1914.5V432.5H1917.5V426.5H1918.5V441.5H1919.5V422.5H1920.5V431.5H1922.5V422.5H1923.5V442.5H1924.5V417.5H1925.5V427.5H1927.5V432.5H1930.5V421.5H1932.5V431.5H1936.5V428.5H1939.5V427.5H1940.5V413.5H1941.5V438.5H1942.5V412.5H1943.5V411.5H1944.5V441.5H1945.5V528.5H1946.5V628.5H1947.5V426.5H1948.5V501H1948.5V496.5H1949.5V411.5H1950.5V434.5H1952.5V436.5H1953.5V416.5H1954.5V456.5H1955.5V430.5H1957.5V421.5H1958.5V428.5H1960.5V432.5H1962.5V420.5H1963.5V430.5H1964.5V438.5H1966.5V413.5H1967.5V431.5H1968.5V415.5H1969.5V442.5H1970.5V423.5H1971.5V415.5H1972.5V470.5H1973.5V423.5H1974.5V517H1974.5V431.5H1976.5V543H1976.5V404.5H1977.5V415.5H1979.5V420.5H1980.5V471H1980.5V436.5H1982.5V432.5H1984.5V424.5H1986.5V416.5H1987.5V357.5H1988.5V423.5H1992.5V446.5H1992.5V473.5H1993.5V458.5H1994.5V424.5H1996.5V426.5H1998.5V445.5H1999.5V424.5H2000.5V425.5H2001.5V456.5H2002.5V425.5H2004.5V430.5H2006.5V423.5H2008.5V409.5H2010.5V441.5H2012.5V578.5H2013.5V438.5H2018.5V434.5H2019.5V481.5H2020.5V434.5H2021.5V538.5H2024.5V422.5H2027.5V438.5H2027.5V567.5H2029.5V429.5H2030.5V473H2030.5V431.5H2031.5V542.5H2032.5V439.5H2033.5V568.5H2035.5V436.5H2036.5V574.5H2037.5V435.5H2038.5V415.5H2042.5V430.5H2043.5V487.5H2044.5V431.5H2045.5V414.5H2046.5V422.5H2048.5V427.5H2049.5V421.5H2051.5V423.5H2053.5V420.5H2055.5V411.5H2056.5V415.5H2058.5V413.5H2060.5V414.5H2061.5V422.5H2063.5V411.5H2064.5V424.5H2065.5V434.5H2066.5V422.5H2068.5V392.5H2069.5V422.5H2071.5V386.5H2072.5V415.5H2074.5V409.5H2075.5V420.5H2076.5V409.5H2077.5V422.5H2079.5V424.5H2081.5V377.5H2082.5V474.5H2083.5V414.5H2088.5V422.5H2089.5V428.5H2091.5V423.5H2092.5V464.5H2093.5V422.5H2094.5V431.5H2096.5V422.5H2097.5V494H2097.5V432.5H2099.5V425.5H2101.5V439.5H2102.5V478.5H2105.5V481.5H2105.5V517.5H2106.5V458.5H2107.5V447.5H2109.5V456.5H2111.5V448.5H2112.5V445.5H2114.5V468.5H2116.5V482.5H2117.5V505.5H2118.5V481.5H2119.5V511.5H2120.5V586.5H2121.5V437.5H2122.5V485.5H2124.5V441.5H2128.5V483.5H2129.5V404.5H2130.5V493.5H2132.5V481.5H2135.5V447.5H2136.5V476.5H2138.5V466H2138.5V475.5H2140.5V483.5H2143.5V462.5H2147.5V484.5H2149.5V487.5H2150.5V489.5H2153.5V504.5H2154.5V488.5H2155.5V436.5H2156.5V506.5H2157.5V468.5H2160.5V513.5H2161.5V392.5H2163.5V480.5H2164.5V461.5H2167.5V396H2167.5V506.5H2168.5V426.5H2169.5V396.5H2170.5V495.5H2172.5V483.5H2173.5V481.5H2175.5V485.5H2177.5V494.5H2178.5V436.5H2179.5V507.5H2179.5V507.5H2180.5V515.5H2181.5V485.5H2182.5V515.5H2183.5V457.5H2184.5V507.5H2185.5V438.5H2186.5V477.5H2187.5V423.5H2189.5V438.5H2191.5V386.5H2192.5V508.5H2193.5V413.5H2194.5V442.5H2195.5V427.5H2197.5V457.5H2198.5V388H2198.5V466.5H2199.5V441.5H2200.5V461.5H2202.5V451.5H2203.5V429.5H2205.5V454.5H2206.5V429.5H2207.5V436.5H2208.5V482.5H2213.5V490.5H2216.5V469.5H2217.5V484.5H2218.5V425.5H2223.5V484.5H2224.5V406.5H2226.5V436.5H2227.5V504.5H2228.5V438.5H2229.5V482.5H2230.5V428.5H2230.5V424.5H2232.5V410H2232.5V489.5H2233.5V419.5H2234.5V472.5H2235.5V431.5H2236.5V527.5H2237.5V431H2237.5V544.5H2238.5V441.5H2239.5V481.5H2240.5V428.5H2242.5V420.5H2243.5V533.5H2244.5V465.5H2245.5V411.5H2246.5V434.5H2249.5V628.5H2250.5V420.5H2251.5V425.5H2254.5V424.5H2255.5V416.5H2256.5V421.5H2285.5V423.5H2287.5V428.5H2288.5V422.5H2289.5V413.5H2298.5V429.5H2299.5V423.5H2301.5V430.5H2302.5V436.5H2303.5V586H2303.5V439.5H2305.5V423.5H2306.5V431.5H2307.5V422.5H2308.5V444H2308.5V422.5H2309.5V436.5H2311.5V426.5H2312.5V466.5H2313.5V423.5H2314.5V575.5H2315.5V518H2315.5V597.5H2316.5V423.5H2317.5V509.5H2318.5V428.5H2319.5V610.5H2320.5V431H2320.5V491.5H2321.5V432.5H2322.5V495.5H2323.5V424.5H2324.5V483.5H2325.5V421.5H2327.5V420.5H2332.5V425.5H2333.5V419.5H2334.5V427.5H2335.5V439.5H2336.5V430.5H2337.5V428.5H2339.5V426.5H2341.5V424.5H2342.5V436.5H2343.5V426.5H2348.5V460.5H2348.5V561.5H2349.5V518.5H2350.5V429.5H2352.5V445.5H2353.5V432.5H2354.5V438.5H2355.5V433.5H2357.5V435.5H2358.5V441.5H2359.5V432.5H2360.5V453.5H2361.5V430.5H2364.5V456.5H2365.5V436.5H2366.5V449.5H2367.5V440.5H2370.5V425.5H2377.5V434.5H2379.5V604H2379.5V436.5H2387.5V443.5H2390.5V454.5H2393.5V436.5H2395.5V432.5H2397.5V442.5H2398.5V502.5H2399.5V432.5H2401.5V430.5H2402.5V442.5H2403.5V434.5H2405.5V439.5H2407.5V427.5H2408.5V472H2408.5V428.5H2410.5V434.5H2413.5V435.5H2414.5V505.5H2415.5V534.5H2416.5V556.5H2417.5V516.5H2418.5V610.5H2419.5V426.5H2420.5V507.5H2421.5V436.5H2422.5V434.5H2424.5V517H2424.5V487.5H2426.5V428.5H2427.5V498.5H2429.5V498.5H2430.5V573H2430.5V435.5H2435.5V427.5H2438.5V423.5H2440.5V430.5H2442.5V432.5H2444.5V439.5H2446.5V426.5H2449.5V443.5H2450.5V565.5H2451.5V456.5H2452.5V446.5H2454.5V467.5H2457.5V426H2457.5V443.5H2459.5V439.5H2460.5V432.5H2463.5V431.5H2464.5V588.5H2465.5V430.5H2466.5V438.5H2467.5V451.5H2468.5V428.5H2470.5V450.5H2471.5V436.5H2472.5V442.5H2474.5V607H2474.5V441.5H2476.5V434H2476.5V589.5H2477.5V434.5H2478.5V421.5H2479.5V442H2479.5V428.5H2480.5V426.5H2482.5V442.5H2486.5V436.5H2488.5V477H2488.5V431.5H2490.5V439.5H2492.5V510H2492.5V438.5H2495.5V426.5H2497.5V430.5H2499.5V444.5H2501.5V586.5H2503.5V483.5H2505.5V593.5H2506.5V435.5H2508.5V460.5H2509.5V523.5H2510.5V450.5H2511.5V494.5H2512.5V427.5H2513.5V571.5H2516.5V543.5H2517.5V435.5H2521.5V422.5H2522.5V436.5H2524.5V435.5H2525.5V597.5H2526.5V434.5H2529.5V448.5H2530.5V431.5H2534.5V423.5H2535.5V441.5H2538.5V441.5H2539.5V428.5H2540.5V616.5H2541.5V418.5H2546.5V543.5H2547.5V557.5H2548.5V629H2548.5V423.5H2549.5V613.5H2551.5V426.5H2552.5V431.5H2553.5V469.5H2554.5V618.5H2555.5V534.5H2555.5V435.5H2557.5V460.5H2558.5V443.5H2559.5V463.5H2560.5V458.5H2561.5V487.5H2563.5V461.5H2564.5V433.5H2567.5V439.5H2568.5V525.5H2570.5V498.5H2571.5V438.5H2572.5V568.5H2573.5V430.5H2574.5V514.5H2576.5V585.5H2577.5V422.5H2578.5V469.5H2579.5V480.5H2580.5V440.5H2581.5V563.5H2582.5V537.5H2583.5V520.5H2585.5V495.5H2586.5V586H2586.5V438.5H2588.5V480.5H2589.5V437.5H2590.5V584.5H2591.5V437.5H2592.5V594.5H2593.5V487.5H2594.5V435.5H2596.5V428.5H2599.5V514.5H2602.5V426H2602.5V498.5H2604.5V443.5H2607.5V437H2607.5V518.5H2610.5V443.5H2613.5V480.5H2617.5V529.5H2619.5V430.5H2620.5V426.5H2621.5V440.5H2622.5V427.5H2625.5V430.5H2626.5V492.5H2627.5V564.5H2628.5V432.5H2629.5V511.5H2630.5V466.5H2632.5V426.5H2633.5V569.5H2634.5V473.5H2636.5V428.5H2639.5V424.5H2641.5V477.5H2642.5V425.5H2643.5V466.5H2645.5V424.5H2652.5V431.5H2653.5V470.5H2654.5V422.5H2655.5V432.5H2656.5V475.5H2658.5V558H2658.5V432.5H2659.5V514.5H2660.5V422.5H2661.5V443.5H2663.5V431.5H2664.5V473.5H2665.5V438.5H2666.5V494.5H2667.5V436.5H2668.5V432.5H2669.5V429.5H2671.5V492.5H2673.5V426.5H2674.5V437.5H2676.5V457.5H2677.5V483.5H2679.5V417.5H2688.5V421.5H2695.5V434.5H2696.5V458.5H2697.5V441.5H2698.5V435.5H2700.5V429.5H2701.5V490.5H2701.5V523.5H2704.5V429.5H2706.5V500.5H2708.5V443.5H2710.5V438.5H2714.5V419.5H2715.5V428.5H2725.5V537.5H2728.5V446.5H2730.5V435.5H2735.5V409.5H2737.5V413.5H2738.5V417.5H2740.5V432.5H2742.5V562.5H2748.5V577.5H2751.5V552.5H2753.5V532.5H2754.5V524.5H2756.5V494.5H2757.5V564H2757.5V442.5H2759.5V430.5H2766.5V547.5H2777.5V534.5H2791.5V628.5H2925.5V490.5H2927.5V503.5H2928.5V530.5H2930.5V538.5H2931.5V495.5H2932.5V510.5H2933.5V519.5H2934.5V522.5H2935.5V628.5H2937.5V586.5H2938.5V628.5H2938.5" fill="none" stroke="rgb(65,105,225)" stroke-width="1"/>
<path shape-rendering="crispEdges" d="M120,825.5H132.5V746.5H133.5V783.5H134.5V703.5H135.5V819.5H136.5V780.5H137.5V776.5H138.5V696.5H139.5V689.5H140.5V808.5H141.5V727.5H142.5V819.5H143.5V743.5H144.5V739.5H144.5V825.5H145.5V819.5H146.5V825.5H147.5V713.5H148.5V749.5H149.5V825.5H149.5V743.5H150.5V825.5H151.5V725.5H152.5V708.5H153.5V825.5H154.5V735.5H155.5V791.5H156.5V808.5H157.5V721.5H159.5V656.5H165.5V687.5H168.5V745.5H169.5V770.5H170.5V825.5H171.5V770.5H171.5V747.5H172.5V739.5H175.5V732.5H176.5V653.5H177.5V700.5H178.5V702.5H179.5V789.5H181.5V773.5H182.5V769.5H183.5V762.5H185.5V706.5H185.5V735.5H186.5V749.5H187.5V754.5H189.5V695.5H191.5V766.5H193.5V799.5H194.5V820.5H196.5V795.5H198.5V825.5H200.5V783.5H204.5V825.5H205.5V815.5H206.5V825.5H207.5V776.5H208.5V816.5H210.5V798.5H212.5V721.5H212.5V825.5H213.5V746.5H218.5V723.5H219.5V825.5H220.5V746.5H221.5V721.5H222.5V734.5H223.5V825.5H224.5V778.5H226.5V825.5H226.5V807.5H228.5V825.5H231.5V743.5H233.5V742.5H234.5V717.5H235.5V768.5H237.5V789.5H238.5V702.5H240.5V738.5H242.5V722.5H243.5V799.5H246.5V768.5H247.5V752.5H249.5V691.5H250.5V752.5H251.5V774.5H254.5V799.5H256.5V825.5H261.5V735.5H262.5V766.5H263.5V733.5H265.5V731.5H266.5V702.5H267.5V752.5H268.5V825.5H269.5V725.5H271.5V825.5H272.5V745.5H273.5V743.5H274.5V825.5H275.5V785.5H277.5V825.5H278.5V819.5H279.5V733.5H280.5V725.5H281.5V729.5H283.5V727.5H284.5V705.5H284.5V727.5H286.5V726.5H287.5V633.5H288.5V825.5H289.5V721.5H290.5V640.5H294.5V739.5H295.5V731.5H296.5V626.5H298.5V755.5H299.5V703.5H301.5V702.5H301.5V739.5H302.5V825.5H303.5V718.5H305.5V754.5H306.5V724.5H307.5V825.5H308.5V724.5H309.5V686.5H310.5V699.5H311.5V670.5H312.5V678.5H314.5V825.5H314.5V697.5H316.5V776.5H318.5V720.5H320.5V768.5H321.5V739.5H323.5V758.5H326.5V721.5H330.5V769.5H332.5V710.5H333.5V726.5H337.5V736.5H344.5V760.5H346.5V749.5H348.5V693.5H350.5V730.5H352.5V825.5H354.5V793.5H356.5V739.5H359.5V733.5H360.5V803.5H361.5V823.5H362.5V709.5H363.5V795.5H365.5V733.5H367.5V748.5H370.5V753.5H371.5V746.5H373.5V718.5H374.5V716.5H376.5V736.5H378.5V786.5H380.5V770.5H382.5V825.5H383.5V782.5H385.5V737.5H388.5V781.5H390.5V821.5H391.5V744.5H392.5V795.5H395.5V747.5H396.5V728.5H399.5V784.5H403.5V797.5H405.5V772.5H406.5V736.5H407.5V728.5H410.5V763.5H411.5V761.5H412.5V743.5H414.5V636.5H416.5V654.5H417.5V636.5H418.5V644.5H419.5V636.5H422.5V771.5H424.5V684.5H426.5V736.5H427.5V796.5H428.5V786.5H429.5V825.5H430.5V796.5H431.5V825.5H432.5V779.5H434.5V796.5H435.5V755.5H435.5V801.5H437.5V803.5H438.5V825.5H439.5V809.5H440.5V825.5H441.5V812.5H442.5V825.5H444.5V814.5H444.5V825.5H446.5V729.5H449.5V811.5H452.5V726.5H457.5V636.5H462.5V825.5H463.5V809.5H465.5V810.5H467.5V825.5H469.5V792.5H471.5V639.5H472.5V636.5H476.5V646.5H479.5V636.5H481.5V825.5H482.5V651.5H484.5V677.5H486.5V825.5H487.5V749.5H489.5V636.5H492.5V692.5H493.5V825.5H494.5V662.5H496.5V636.5H498.5V825.5H500.5V636.5H503.5V825.5H512.5V770.5H514.5V762.5H515.5V715.5H516.5V774.5H517.5V782.5H519.5V825.5H520.5V761.5H522.5V805.5H523.5V755.5H525.5V776.5H526.5V825.5H527.5V810.5H528.5V749.5H528.5V819.5H529.5V636.5H531.5V678.5H532.5V714.5H536.5V636.5H538.5V825.5H539.5V636.5H541.5V825.5H541.5V699.5H542.5V825.5H543.5V636.5H544.5V825.5H544.5V671.5H545.5V825.5H547.5V636.5H554.5V742.5H556.5V636.5H558.5V640.5H561.5V667.5H562.5V640.5H563.5V636.5H582.5V645.5H585.5V651.5H588.5V639.5H589.5V636.5H591.5V670.5H592.5V636.5H594.5V825.5H595.5V744.5H596.5V638.5H597.5V746.5H598.5V748.5H599.5V825.5H600.5V768.5H601.5V734.5H603.5V825.5H603.5V656.5H604.5V695.5H607.5V750.5H609.5V768.5H610.5V739.5H611.5V825.5H612.5V815.5H613.5V749.5H616.5V721.5H617.5V825.5H618.5V754.5H619.5V825.5H621.5V729.5H622.5V825.5H623.5V753.5H625.5V825.5H626.5V761.5H627.5V825.5H628.5V766.5H629.5V825.5H630.5V737.5H632.5V825.5H637.5V638.5H640.5V825.5H642.5V763.5H643.5V636.5H645.5V639.5H647.5V661.5H647.5V639.5H649.5V636.5H650.5V644.5H652.5V636.5H656.5V641.5H658.5V636.5H659.5V645.5H660.5V663.5H661.5V641.5H662.5V636.5H664.5V739.5H665.5V755.5H666.5V707.5H668.5V734.5H669.5V794.5H671.5V737.5H672.5V746.5H673.5V796.5H674.5V809.5H675.5V746.5H676.5V763.5H678.5V755.5H679.5V754.5H680.5V752.5H681.5V745.5H683.5V805.5H685.5V720.5H686.5V789.5H687.5V723.5H690.5V724.5H691.5V810.5H692.5V740.5H693.5V785.5H695.5V783.5H697.5V768.5H699.5V783.5H700.5V773.5H702.5V785.5H705.5V770.5H707.5V729.5H708.5V729.5H712.5V731.5H713.5V752.5H716.5V825.5H717.5V761.5H718.5V751.5H720.5V743.5H720.5V700.5H721.5V757.5H722.5V735.5H724.5V732.5H727.5V757.5H728.5V717.5H730.5V755.5H731.5V705.5H732.5V726.5H734.5V716.5H734.5V768.5H735.5V795.5H736.5V729.5H738.5V769.5H740.5V743.5H741.5V759.5H742.5V731.5H743.5V747.5H744.5V804.5H745.5V740.5H746.5V739.5H749.5V754.5H751.5V753.5H753.5V756.5H754.5V773.5H755.5V764.5H757.5V767.5H759.5V766.5H760.5V755.5H761.5V738.5H764.5V804.5H765.5V704.5H766.5V697.5H767.5V757.5H768.5V742.5H769.5V734.5H772.5V737.5H775.5V743.5H775.5V725.5H780.5V735.5H782.5V723.5H784.5V747.5H785.5V825.5H786.5V771.5H787.5V729.5H788.5V746.5H789.5V742.5H790.5V752.5H791.5V740.5H792.5V739.5H793.5V717.5H794.5V773.5H795.5V726.5H796.5V759.5H797.5V781.5H801.5V781.5H802.5V784.5H803.5V736.5H805.5V764.5H806.5V740.5H807.5V788.5H808.5V761.5H809.5V752.5H812.5V770.5H813.5V736.5H814.5V741.5H815.5V777.5H816.5V759.5H818.5V750.5H820.5V774.5H821.5V746.5H822.5V763.5H823.5V761.5H825.5V772.5H826.5V733.5H827.5V754.5H829.5V743.5H830.5V751.5H832.5V749.5H833.5V775.5H834.5V731.5H835.5V736.5H837.5V759.5H838.5V731.5H839.5V763.5H840.5V731.5H842.5V743.5H846.5V755.5H849.5V792.5H850.5V739.5H851.5V764.5H853.5V760.5H855.5V757.5H857.5V825.5H858.5V728.5H859.5V739.5H861.5V750.5H862.5V759.5H863.5V825.5H864.5V768.5H867.5V802.5H869.5V754.5H870.5V766.5H871.5V733.5H872.5V769.5H873.5V742.5H875.5V768.5H877.5V736.5H879.5V761.5H880.5V798.5H881.5V759.5H883.5V798.5H884.5V789.5H885.5V794.5H886.5V761.5H887.5V754.5H889.5V816.5H890.5V733.5H891.5V775.5H891.5V740.5H892.5V805.5H893.5V734.5H895.5V731.5H896.5V724.5H897.5V825.5H898.5V785.5H899.5V695.5H900.5V825.5H901.5V784.5H902.5V825.5H902.5V736.5H903.5V775.5H904.5V780.5H905.5V759.5H906.5V768.5H907.5V825.5H908.5V756.5H909.5V739.5H910.5V825.5H912.5V774.5H912.5V825.5H914.5V711.5H915.5V731.5H916.5V759.5H917.5V746.5H918.5V741.5H919.5V825.5H920.5V733.5H921.5V825.5H922.5V789.5H924.5V783.5H926.5V741.5H928.5V724.5H931.5V736.5H932.5V740.5H935.5V743.5H936.5V768.5H937.5V735.5H938.5V825.5H939.5V711.5H939.5V745.5H941.5V812.5H942.5V769.5H943.5V784.5H945.5V769.5H946.5V768.5H947.5V803.5H948.5V750.5H950.5V749.5H951.5V782.5H952.5V741.5H953.5V760.5H955.5V702.5H957.5V778.5H962.5V719.5H963.5V741.5H965.5V741.5H967.5V730.5H969.5V721.5H970.5V731.5H972.5V726.5H973.5V735.5H974.5V695.5H978.5V788.5H979.5V825.5H980.5V702.5H981.5V723.5H983.5V665.5H984.5V825.5H986.5V731.5H987.5V724.5H988.5V748.5H990.5V698.5H991.5V721.5H992.5V825.5H993.5V710.5H994.5V718.5H995.5V721.5H996.5V697.5H998.5V719.5H999.5V711.5H1007.5V724.5H1010.5V772.5H1012.5V698.5H1013.5V727.5H1014.5V731.5H1015.5V745.5H1016.5V733.5H1017.5V743.5H1018.5V710.5H1020.5V825.5H1021.5V777.5H1025.5V825.5H1030.5V701.5H1031.5V707.5H1033.5V825.5H1034.5V716.5H1036.5V770.5H1038.5V644.5H1044.5V811.5H1046.5V825.5H1051.5V787.5H1052.5V825.5H1059.5V813.5H1062.5V768.5H1063.5V825.5H1067.5V810.5H1069.5V825.5H1073.5V795.5H1074.5V825.5H1097.5V755.5H1098.5V825.5H1103.5V761.5H1104.5V770.5H1107.5V825.5H1112.5V800.5H1113.5V781.5H1116.5V825.5H1118.5V780.5H1119.5V825.5H1121.5V779.5H1123.5V825.5H1126.5V815.5H1128.5V730.5H1131.5V825.5H1148.5V770.5H1150.5V733.5H1151.5V745.5H1152.5V825.5H1153.5V762.5H1155.5V825.5H1158.5V794.5H1164.5V779.5H1167.5V825.5H1170.5V746.5H1171.5V707.5H1175.5V825.5H1178.5V740.5H1179.5V774.5H1180.5V780.5H1185.5V743.5H1186.5V819.5H1188.5V825.5H1189.5V774.5H1190.5V756.5H1191.5V815.5H1194.5V825.5H1195.5V797.5H1198.5V780.5H1199.5V752.5H1200.5V778.5H1200.5V769.5H1202.5V825.5H1203.5V768.5H1205.5V748.5H1207.5V825.5H1208.5V754.5H1210.5V773.5H1211.5V825.5H1215.5V819.5H1217.5V825.5H1226.5V795.5H1230.5V825.5H1233.5V709.5H1234.5V746.5H1236.5V825.5H1253.5V746.5H1254.5V825.5H1258.5V664.5H1262.5V825.5H1263.5V773.5H1265.5V825.5H1270.5V729.5H1272.5V825.5H1290.5V825.5H1357.5V735.5H1358.5V825.5H1359.5V787.5H1361.5V825.5H1364.5V746.5H1365.5V825.5H1366.5V746.5H1370.5V825.5H1373.5V794.5H1375.5V825.5H1385.5V757.5H1387.5V825.5H1439.5V774.5H1440.5V825.5H1445.5V819.5H1447.5V825.5H1454.5V787.5H1456.5V825.5H1474.5V736.5H1474.5V825.5H1485.5V819.5H1486.5V767.5H1487.5V783.5H1489.5V739.5H1490.5V674.5H1491.5V783.5H1494.5V636.5H1495.5V825.5H1496.5V776.5H1497.5V771.5H1498.5V825.5H1499.5V796.5H1500.5V761.5H1502.5V753.5H1502.5V789.5H1503.5V782.5H1504.5V825.5H1509.5V822.5H1511.5V825.5H1517.5V775.5H1518.5V825.5H1521.5V643.5H1522.5V636.5H1531.5V654.5H1532.5V636.5H1533.5V698.5H1534.5V718.5H1538.5V640.5H1539.5V686.5H1540.5V657.5H1541.5V648.5H1542.5V636.5H1543.5V678.5H1544.5V667.5H1545.5V679.5H1546.5V642.5H1547.5V710.5H1547.5V636.5H1553.5V640.5H1555.5V647.5H1556.5V639.5H1557.5V732.5H1557.5V682.5H1559.5V736.5H1561.5V681.5H1562.5V665.5H1563.5V636.5H1565.5V649.5H1567.5V695.5H1568.5V825.5H1570.5V679.5H1571.5V720.5H1572.5V710.5H1573.5V825.5H1574.5V681.5H1576.5V705.5H1577.5V636.5H1577.5V752.5H1578.5V718.5H1580.5V712.5H1581.5V730.5H1583.5V683.5H1584.5V748.5H1585.5V750.5H1586.5V663.5H1587.5V658.5H1587.5V678.5H1589.5V665.5H1590.5V662.5H1591.5V672.5H1592.5V677.5H1594.5V655.5H1595.5V664.5H1596.5V636.5H1600.5V670.5H1602.5V636.5H1608.5V679.5H1609.5V636.5H1613.5V696.5H1614.5V825.5H1615.5V636.5H1618.5V638.5H1619.5V636.5H1620.5V810.5H1621.5V825.5H1625.5V811.5H1627.5V801.5H1629.5V825.5H1631.5V736.5H1632.5V795.5H1635.5V730.5H1635.5V749.5H1637.5V825.5H1639.5V795.5H1640.5V825.5H1646.5V659.5H1657.5V741.5H1658.5V701.5H1661.5V743.5H1664.5V825.5H1669.5V742.5H1673.5V714.5H1675.5V691.5H1677.5V742.5H1678.5V753.5H1680.5V690.5H1683.5V776.5H1685.5V692.5H1686.5V747.5H1687.5V704.5H1689.5V664.5H1696.5V723.5H1697.5V825.5H1699.5V676.5H1701.5V825.5H1704.5V739.5H1707.5V825.5H1709.5V759.5H1711.5V825.5H1712.5V728.5H1713.5V705.5H1714.5V665.5H1716.5V731.5H1718.5V710.5H1720.5V704.5H1722.5V713.5H1723.5V738.5H1727.5V825.5H1728.5V744.5H1730.5V822.5H1732.5V792.5H1734.5V825.5H1738.5V678.5H1740.5V825.5H1742.5V822.5H1744.5V825.5H1751.5V716.5H1752.5V825.5H1758.5V747.5H1759.5V729.5H1760.5V666.5H1762.5V825.5H1769.5V716.5H1770.5V739.5H1773.5V825.5H1776.5V662.5H1777.5V825.5H1782.5V707.5H1785.5V825.5H1789.5V799.5H1790.5V712.5H1793.5V825.5H1797.5V815.5H1799.5V825.5H1801.5V802.5H1803.5V731.5H1808.5V771.5H1812.5V825.5H1818.5V778.5H1820.5V688.5H1823.5V757.5H1826.5V773.5H1828.5V782.5H1830.5V803.5H1833.5V796.5H1835.5V690.5H1842.5V725.5H1847.5V782.5H1850.5V799.5H1851.5V825.5H1855.5V781.5H1857.5V729.5H1860.5V825.5H1862.5V794.5H1863.5V785.5H1865.5V808.5H1866.5V825.5H1868.5V710.5H1875.5V682.5H1878.5V693.5H1879.5V734.5H1880.5V770.5H1881.5V749.5H1885.5V688.5H1886.5V746.5H1887.5V739.5H1888.5V739.5H1892.5V717.5H1894.5V724.5H1895.5V728.5H1896.5V825.5H1898.5V787.5H1899.5V825.5H1900.5V752.5H1902.5V763.5H1905.5V802.5H1905.5V732.5H1907.5V733.5H1908.5V767.5H1911.5V743.5H1913.5V739.5H1914.5V804.5H1915.5V760.5H1916.5V762.5H1918.5V731.5H1919.5V781.5H1920.5V742.5H1921.5V724.5H1922.5V795.5H1924.5V743.5H1925.5V705.5H1926.5V738.5H1927.5V760.5H1928.5V742.5H1930.5V718.5H1933.5V764.5H1934.5V755.5H1936.5V740.5H1938.5V755.5H1939.5V741.5H1940.5V783.5H1941.5V694.5H1942.5V721.5H1943.5V685.5H1944.5V791.5H1945.5V736.5H1946.5V825.5H1947.5V733.5H1948.5V825.5H1949.5V736.5H1950.5V685.5H1951.5V766.5H1952.5V776.5H1953.5V704.5H1954.5V825.5H1955.5V752.5H1956.5V717.5H1958.5V770.5H1959.5V739.5H1960.5V740.5H1961.5V712.5H1962.5V742.5H1964.5V782.5H1966.5V732.5H1967.5V692.5H1968.5V700.5H1969.5V795.5H1970.5V736.5H1972.5V825.5H1973.5V697.5H1974.5V723.5H1975.5V825.5H1975.5V788.5H1976.5V660.5H1977.5V789.5H1978.5V717.5H1979.5V790.5H1980.5V776.5H1981.5V825.5H1982.5V768.5H1983.5V764.5H1984.5V737.5H1985.5V702.5H1987.5V636.5H1988.5V726.5H1989.5V727.5H1992.5V825.5H1993.5V811.5H1994.5V735.5H1995.5V731.5H1996.5V736.5H1997.5V807.5H1998.5V733.5H1999.5V736.5H2000.5V733.5H2001.5V825.5H2002.5V734.5H2003.5V733.5H2004.5V756.5H2005.5V731.5H2007.5V729.5H2009.5V677.5H2010.5V788.5H2011.5V825.5H2013.5V780.5H2016.5V786.5H2018.5V765.5H2020.5V769.5H2021.5V825.5H2022.5V776.5H2023.5V724.5H2027.5V793.5H2028.5V825.5H2029.5V743.5H2030.5V773.5H2031.5V761.5H2032.5V825.5H2033.5V784.5H2034.5V825.5H2035.5V773.5H2036.5V775.5H2037.5V697.5H2042.5V756.5H2043.5V797.5H2044.5V755.5H2045.5V695.5H2046.5V709.5H2047.5V741.5H2049.5V714.5H2050.5V729.5H2051.5V719.5H2052.5V709.5H2053.5V738.5H2054.5V707.5H2055.5V684.5H2056.5V696.5H2058.5V702.5H2058.5V691.5H2060.5V696.5H2061.5V727.5H2062.5V724.5H2063.5V685.5H2064.5V734.5H2065.5V769.5H2066.5V731.5H2067.5V700.5H2069.5V636.5H2072.5V686.5H2074.5V678.5H2075.5V742.5H2076.5V684.5H2077.5V676.5H2078.5V692.5H2078.5V717.5H2079.5V737.5H2080.5V724.5H2081.5V636.5H2082.5V825.5H2083.5V816.5H2084.5V693.5H2088.5V722.5H2089.5V742.5H2091.5V757.5H2092.5V825.5H2093.5V726.5H2094.5V747.5H2095.5V731.5H2096.5V719.5H2097.5V739.5H2099.5V825.5H2099.5V735.5H2101.5V788.5H2102.5V825.5H2108.5V813.5H2109.5V825.5H2112.5V807.5H2114.5V825.5H2120.5V778.5H2121.5V817.5H2124.5V794.5H2128.5V825.5H2130.5V660.5H2130.5V825.5H2133.5V814.5H2135.5V825.5H2156.5V778.5H2157.5V825.5H2161.5V636.5H2163.5V741.5H2164.5V825.5H2167.5V636.5H2168.5V740.5H2169.5V639.5H2170.5V825.5H2178.5V773.5H2179.5V825.5H2185.5V782.5H2187.5V729.5H2188.5V782.5H2189.5V749.5H2191.5V636.5H2192.5V692.5H2194.5V742.5H2195.5V741.5H2196.5V825.5H2197.5V636.5H2198.5V792.5H2200.5V825.5H2203.5V749.5H2205.5V750.5H2208.5V776.5H2208.5V825.5H2218.5V733.5H2223.5V667.5H2226.5V775.5H2227.5V810.5H2228.5V782.5H2229.5V825.5H2230.5V731.5H2231.5V682.5H2232.5V740.5H2234.5V825.5H2235.5V782.5H2236.5V734.5H2236.5V755.5H2238.5V825.5H2240.5V721.5H2241.5V746.5H2242.5V717.5H2243.5V825.5H2245.5V685.5H2246.5V769.5H2249.5V825.5H2249.5V735.5H2250.5V716.5H2252.5V735.5H2255.5V704.5H2256.5V721.5H2285.5V731.5H2287.5V744.5H2288.5V720.5H2289.5V691.5H2297.5V691.5H2298.5V732.5H2299.5V750.5H2300.5V730.5H2302.5V746.5H2303.5V783.5H2305.5V732.5H2305.5V734.5H2306.5V723.5H2308.5V802.5H2309.5V737.5H2310.5V722.5H2310.5V775.5H2312.5V825.5H2312.5V740.5H2314.5V825.5H2315.5V730.5H2316.5V825.5H2317.5V747.5H2318.5V825.5H2318.5V747.5H2319.5V773.5H2319.5V825.5H2320.5V773.5H2321.5V736.5H2321.5V784.5H2322.5V825.5H2323.5V761.5H2323.5V825.5H2324.5V736.5H2325.5V723.5H2326.5V715.5H2334.5V736.5H2334.5V785.5H2335.5V744.5H2336.5V767.5H2337.5V750.5H2338.5V737.5H2340.5V736.5H2341.5V742.5H2342.5V776.5H2344.5V738.5H2348.5V758.5H2349.5V825.5H2350.5V795.5H2351.5V750.5H2352.5V804.5H2353.5V766.5H2353.5V782.5H2355.5V763.5H2358.5V788.5H2359.5V770.5H2360.5V763.5H2361.5V752.5H2364.5V780.5H2365.5V825.5H2365.5V780.5H2367.5V823.5H2368.5V788.5H2370.5V736.5H2372.5V747.5H2372.5V736.5H2377.5V773.5H2379.5V761.5H2379.5V779.5H2388.5V804.5H2391.5V825.5H2394.5V776.5H2395.5V764.5H2397.5V792.5H2398.5V825.5H2399.5V765.5H2400.5V751.5H2401.5V795.5H2402.5V751.5H2403.5V770.5H2406.5V786.5H2407.5V743.5H2408.5V825.5H2408.5V744.5H2411.5V765.5H2413.5V766.5H2413.5V771.5H2414.5V825.5H2420.5V764.5H2421.5V825.5H2422.5V772.5H2423.5V789.5H2424.5V768.5H2424.5V825.5H2427.5V746.5H2428.5V825.5H2430.5V770.5H2435.5V739.5H2439.5V733.5H2441.5V751.5H2442.5V758.5H2443.5V759.5H2444.5V779.5H2445.5V787.5H2446.5V740.5H2450.5V825.5H2451.5V808.5H2452.5V825.5H2453.5V812.5H2455.5V789.5H2455.5V825.5H2456.5V739.5H2457.5V794.5H2459.5V803.5H2460.5V766.5H2462.5V761.5H2463.5V825.5H2465.5V756.5H2466.5V746.5H2467.5V825.5H2468.5V773.5H2469.5V744.5H2470.5V825.5H2471.5V768.5H2473.5V766.5H2474.5V796.5H2475.5V769.5H2477.5V721.5H2478.5V749.5H2479.5V761.5H2480.5V740.5H2482.5V796.5H2486.5V774.5H2487.5V825.5H2488.5V758.5H2490.5V788.5H2493.5V783.5H2495.5V737.5H2497.5V750.5H2499.5V803.5H2500.5V808.5H2500.5V758.5H2501.5V825.5H2506.5V770.5H2508.5V825.5H2510.5V823.5H2512.5V742.5H2512.5V823.5H2513.5V825.5H2517.5V770.5H2521.5V729.5H2522.5V776.5H2524.5V771.5H2525.5V825.5H2526.5V766.5H2528.5V770.5H2529.5V819.5H2531.5V756.5H2533.5V735.5H2534.5V750.5H2535.5V798.5H2535.5V751.5H2536.5V793.5H2539.5V750.5H2540.5V768.5H2541.5V709.5H2546.5V825.5H2548.5V764.5H2549.5V733.5H2550.5V739.5H2552.5V756.5H2553.5V825.5H2556.5V774.5H2557.5V804.5H2559.5V825.5H2564.5V765.5H2564.5V764.5H2567.5V786.5H2568.5V825.5H2571.5V783.5H2572.5V758.5H2574.5V737.5H2574.5V825.5H2576.5V724.5H2578.5V825.5H2581.5V788.5H2581.5V825.5H2586.5V761.5H2586.5V785.5H2588.5V825.5H2589.5V777.5H2590.5V825.5H2591.5V777.5H2592.5V784.5H2593.5V825.5H2595.5V770.5H2597.5V746.5H2597.5V745.5H2600.5V825.5H2602.5V738.5H2602.5V825.5H2604.5V801.5H2607.5V781.5H2608.5V825.5H2610.5V800.5H2613.5V825.5H2619.5V752.5H2621.5V788.5H2622.5V739.5H2623.5V786.5H2624.5V742.5H2626.5V825.5H2628.5V759.5H2630.5V825.5H2632.5V740.5H2633.5V753.5H2634.5V825.5H2636.5V747.5H2639.5V731.5H2640.5V729.5H2641.5V736.5H2643.5V825.5H2644.5V732.5H2646.5V734.5H2651.5V736.5H2652.5V758.5H2653.5V825.5H2654.5V729.5H2655.5V764.5H2658.5V759.5H2659.5V804.5H2660.5V724.5H2662.5V763.5H2664.5V783.5H2665.5V775.5H2667.5V772.5H2668.5V764.5H2669.5V750.5H2671.5V825.5H2672.5V743.5H2674.5V739.5H2674.5V777.5H2676.5V825.5H2679.5V705.5H2688.5V722.5H2695.5V766.5H2696.5V825.5H2697.5V792.5H2699.5V773.5H2700.5V750.5H2702.5V825.5H2705.5V751.5H2706.5V825.5H2708.5V801.5H2711.5V782.5H2714.5V715.5H2715.5V746.5H2725.5V825.5H2728.5V811.5H2730.5V772.5H2735.5V679.5H2737.5V691.5H2738.5V710.5H2741.5V762.5H2742.5V763.5H2742.5V825.5H2757.5V737.5H2759.5V753.5H2766.5V825.5H2925.5V815.5H2927.5V825.5H2937.5V720.5H2939V1110H120Z" fill="rgb(75,0,130)" fill-opacity="0.5" stroke="none"/>
<path shape-rendering="crispEdges" d="M120.5,825.5H132.5V746.5H133.5V783.5H134.5V703.5H135.5V819.5H136.5V780.5H137.5V776.5H138.5V696.5H139.5V689.5H140.5V808.5H141.5V727.5H142.5V819.5H143.5V743.5H144.5V739H144.5V825.5H145.5V819.5H146.5V825.5H147.5V713.5H148.5V749.5H149.5V826H149.5V743.5H150.5V825.5H151.5V725.5H152.5V708.5H153.5V825.5H154.5V735.5H155.5V791.5H156.5V808.5H157.5V721.5H159.5V656.5H165.5V687.5H168.5V745.5H169.5V770.5H170.5V825.5H171.5V770.5H171.5V747.5H172.5V739.5H175.5V732.5H176.5V653.5H177.5V700.5H178.5V702.5H179.5V789.5H181.5V773.5H182.5V769.5H183.5V762.5H185.5V706H185.5V735.5H186.5V749.5H187.5V754.5H189.5V695.5H191.5V766.5H193.5V799.5H194.5V820.5H196.5V795.5H198.5V825.5H200.5V783.5H204.5V825.5H205.5V815.5H206.5V825.5H207.5V776.5H208.5V816.5H210.5V798.5H212.5V721H212.5V825.5H213.5V746.5H218.5V723.5H219.5V825.5H220.5V746.5H221.5V721.5H222.5V734.5H223.5V825.5H224.5V778.5H226.5V826H226.5V807.5H228.5V825.5H231.5V743.5H233.5V742.5H234.5V717.5H235.5V768.5H237.5V789.5H238.5V702.5H240.5V738.5H242.5V722.5H243.5V799.5H246.5V768.5H247.5V752.5H249.5V691.5H250.5V752.5H251.5V774.5H254.5V799.5H256.5V825.5H261.5V735.5H262.5V766.5H263.5V733.5H265.5V731.5H266.5V702.5H267.5V752.5H268.5V825.5H269.5V725.5H271.5V825.5H272.5V745.5H273.5V743.5H274.5V825.5H275.5V785.5H277.5V825.5H278.5V819.5H279.5V733.5H280.5V725.5H281.5V729.5H283.5V727.5H284.5V705H284.5V727.5H286.5V726.5H287.5V633.5H288.5V825.5H289.5V721.5H290.5V640.5H294.5V739.5H295.5V731.5H296.5V626.5H298.5V755.5H299.5V703.5H301.5V702H301.5V739.5H302.5V825.5H303.5V718.5H305.5V754.5H306.5V724.5H307.5V825.5H308.5V724.5H309.5V686.5H310.5V699.5H311.5V670.5H312.5V678.5H314.5V826H314.5V697.5H316.5V776.5H318.5V720.5H320.5V768.5H321.5V739.5H323.5V758.5H326.5V721.5H330.5V769.5H332.5V710.5H333.5V726.5H337.5V736.5H344.5V760.5H346.5V749.5H348.5V693.5H350.5V730.5H352.5V825.5H354.5V793.5H356.5V739.5H359.5V733.5H360.5V803.5H361.5V823.5H362.5V709.5H363.5V795.5H365.5V733.5H367.5V748.5H370.5V753.5H371.5V746.5H373.5V718.5H374.5V716.5H376.5V736.5H378.5V786.5H380.5V770.5H382.5V825.5H383.5V782.5H385.5V737.5H388.5V781.5H390.5V821.5H391.5V744.5H392.5V795.5H395.5V747.5H396.5V728.5H399.5V784.5H403.5V797.5H405.5V772.5H406.5V736.5H407.5V728.5H410.5V763.5H411.5V761.5H412.5V743.5H414.5V636.5H416.5V654.5H417.5V636.5H418.5V644.5H419.5V636.5H422.5V771.5H424.5V684.5H426.5V736.5H427.5V796.5H428.5V786.5H429.5V825.5H430.5V796.5H431.5V825.5H432.5V779.5H434.5V796.5H435.5V755H435.5V801.5H437.5V803.5H438.5V825.5H439.5V809.5H440.5V825.5H441.5V812.5H442.5V825.5H444.5V814H444.5V825.5H446.5V729.5H449.5V811.5H452.5V726.5H457.5V636.5H462.5V825.5H463.5V809.5H465.5V810.5H467.5V825.5H469.5V792.5H471.5V639.5H472.5V636.5H476.5V646.5H479.5V636.5H481.5V825.5H482.5V651.5H484.5V677.5H486.5V825.5H487.5V749.5H489.5V636.5H492.5V692.5H493.5V825.5H494.5V662.5H496.5V636.5H498.5V825.5H500.5V636.5H503.5V825.5H512.5V770.5H514.5V762.5H515.5V715.5H516.5V774.5H517.5V782.5H519.5V825.5H520.5V761.5H522.5V805.5H523.5V755.5H525.5V776.5H526.5V825.5H527.5V810.5H528.5V749H528.5V819.5H529.5V636.5H531.5V678.5H532.5V714.5H536.5V636.5H538.5V825.5H539.5V636.5H541.5V826H541.5V699.5H542.5V825.5H543.5V636.5H544.5V826H544.5V671.5H545.5V825.5H547.5V636.5H554.5V742.5H556.5V636.5H558.5V640.5H561.5V667.5H562.5V640.5H563.5V636.5H582.5V645.5H585.5V651.5H588.5V639.5H589.5V636.5H591.5V670.5H592.5V636.5H594.5V825.5H595.5V744.5H596.5V638.5H597.5V746.5H598.5V748.5H599.5V825.5H600.5V768.5H601.5V734.5H603.5V826H603.5V656.5H604.5V695.5H607.5V750.5H609.5V768.5H610.5V739.5H611.5V825.5H612.5V815.5H613.5V749.5H616.5V721.5H617.5V825.5H618.5V754.5H619.5V825.5H621.5V729.5H622.5V825.5H623.5V753.5H625.5V825.5H626.5V761.5H627.5V825.5H628.5V766.5H629.5V825.5H630.5V737.5H632.5V825.5H637.5V638.5H640.5V825.5H642.5V763.5H643.5V636.5H645.5V639.5H647.5V662H647.5V639.5H649.5V636.5H650.5V644.5H652.5V636.5H656.5V641.5H658.5V636.5H659.5V645.5H660.5V663.5H661.5V641.5H662.5V636.5H664.5V739.5H665.5V755.5H666.5V707.5H668.5V734.5H669.5V794.5H671.5V737.5H672.5V746.5H673.5V796.5H674.5V809.5H675.5V746.5H676.5V763.5H678.5V755.5H679.5V754.5H680.5V752.5H681.5V745.5H683.5V805.5H685.5V720.5H686.5V789.5H687.5V723.5H690.5V724.5H691.5V810.5H692.5V740.5H693.5V785.5H695.5V783.5H697.5V768.5H699.5V783.5H700.5V773.5H702.5V785.5H705.5V770.5H707.5V729.5H708.5V729.5H712.5V731.5H713.5V752.5H716.5V825.5H717.5V761.5H718.5V751.5H720.5V743.5H720.5V700.5H721.5V757.5H722.5V735.5H724.5V732.5H727.5V757.5H728.5V717.5H730.5V755.5H731.5V705.5H732.5V726.5H734.5V716H734.5V768.5H735.5V795.5H736.5V729.5H738.5V769.5H740.5V743.5H741.5V759.5H742.5V731.5H743.5V747.5H744.5V804.5H745.5V740.5H746.5V739.5H749.5V754.5H751.5V753.5H753.5V756.5H754.5V773.5H755.5V764.5H757.5V767.5H759.5V766.5H760.5V755.5H761.5V738.5H764.5V804.5H765.5V704.5H766.5V697.5H767.5V757.5H768.5V742.5H769.5V734.5H772.5V737.5H775.5V744H775.5V725.5H780.5V735.5H782.5V723.5H784.5V747.5H785.5V825.5H786.5V771.5H787.5V729.5H788.5V746.5H789.5V742.5H790.5V752.5H791.5V740.5H792.5V739.5H793.5V717.5H794.5V773.5H795.5V726.5H796.5V759.5H797.5V781.5H801.5V781.5H802.5V784.5H803.5V736.5H805.5V764.5H806.5V740.5H807.5V788.5H808.5V761.5H809.5V752.5H812.5V770.5H813.5V736.5H814.5V741.5H815.5V777.5H816.5V759.5H818.5V750.5H820.5V774.5H821.5V746.5H822.5V763.5H823.5V761.5H825.5V772.5H826.5V733.5H827.5V754.5H829.5V743.5H830.5V751.5H832.5V749.5H833.5V775.5H834.5V731.5H835.5V736.5H837.5V759.5H838.5V731.5H839.5V763.5H840.5V731.5H842.5V743.5H846.5V755.5H849.5V792.5H850.5V739.5H851.5V764.5H853.5V760.5H855.5V757.5H857.5V825.5H858.5V728.5H859.5V739.5H861.5V750.5H862.5V759.5H863.5V825.5H864.5V768.5H867.5V802.5H869.5V754.5H870.5V766.5H871.5V733.5H872.5V769.5H873.5V742.5H875.5V768.5H877.5V736.5H879.5V761.5H880.5V798.5H881.5V759.5H883.5V798.5H884.5V789.5H885.5V794.5H886.5V761.5H887.5V754.5H889.5V816.5H890.5V733.5H891.5V776H891.5V740.5H892.5V805.5H893.5V734.5H895.5V731.5H896.5V724.5H897.5V825.5H898.5V785.5H899.5V695.5H900.5V825.5H901.5V784.5H902.5V826H902.5V736.5H903.5V775.5H904.5V780.5H905.5V759.5H906.5V768.5H907.5V825.5H908.5V756.5H909.5V739.5H910.5V825.5H912.5V774H912.5V825.5H914.5V711.5H915.5V731.5H916.5V759.5H917.5V746.5H918.5V741.5H919.5V825.5H920.5V733.5H921.5V825.5H922.5V789.5H924.5V783.5H926.5V741.5H928.5V724.5H931.5V736.5H932.5V740.5H935.5V743.5H936.5V768.5H937.5V735.5H938.5V825.5H939.5V711H939.5V745.5H941.5V812.5H942.5V769.5H943.5V784.5H945.5V769.5H946.5V768.5H947.5V803.5H948.5V750.5H950.5V749.5H951.5V782.5H952.5V741.5H953.5V760.5H955.5V702.5H957.5V778.5H962.5V719.5H963.5V741.5H965.5V741.5H967.5V730.5H969.5V721.5H970.5V731.5H972.5V726.5H973.5V735.5H974.5V695.5H978.5V788.5H979.5V825.5H980.5V702.5H981.5V723.5H983.5V665.5H984.5V825.5H986.5V731.5H987.5V724.5H988.5V748.5H990.5V698.5H991.5V721.5H992.5V825.5H993.5V710.5H994.5V718.5H995.5V721.5H996.5V697.5H998.5V719.5H999.5V711.5H1007.5V724.5H1010.5V772.5H1012.5V698.5H1013.5V727.5H1014.5V731.5H1015.5V745.5H1016.5V733.5H1017.5V743.5H1018.5V710.5H1020.5V825.5H1021.5V777.5H1025.5V825.5H1030.5V701.5H1031.5V707.5H1033.5V825.5H1034.5V716.5H1036.5V770.5H1038.5V644.5H1044.5V811.5H1046.5V825.5H1051.5V787.5H1052.5V825.5H1059.5V813.5H1062.5V768.5H1063.5V825.5H1067.5V810.5H1069.5V825.5H1073.5V795.5H1074.5V825.5H1097.5V755.5H1098.5V825.5H1103.5V761.5H1104.5V770.5H1107.5V825.5H1112.5V800.5H1113.5V781.5H1116.5V825.5H1118.5V780.5H1119.5V825.5H1121.5V779.5H1123.5V825.5H1126.5V815.5H1128.5V730.5H1131.5V825.5H1148.5V770.5H1150.5V733.5H1151.5V745.5H1152.5V825.5H1153.5V762.5H1155.5V825.5H1158.5V794.5H1164.5V779.5H1167.5V825.5H1170.5V746.5H1171.5V707.5H1175.5V825.5H1178.5V740.5H1179.5V774.5H1180.5V780.5H1185.5V743.5H1186.5V819.5H1188.5V825.5H1189.5V774.5H1190.5V756.5H1191.5V815.5H1194.5V825.5H1195.5V797.5H1198.5V780.5H1199.5V752.5H1200.5V779H1200.5V769.5H1202.5V825.5H1203.5V768.5H1205.5V748.5H1207.5V825.5H1208.5V754.5H1210.5V773.5H1211.5V825.5H1215.5V819.5H1217.5V825.5H1226.5V795.5H1230.5V825.5H1233.5V709.5H1234.5V746.5H1236.5V825.5H1253.5V746.5H1254.5V825.5H1258.5V664.5H1262.5V825.5H1263.5V773.5H1265.5V825.5H1270.5V729.5H1272.5V825.5H1290.5V825.5H1357.5V735.5H1358.5V825.5H1359.5V787.5H1361.5V825.5H1364.5V746.5H1365.5V825.5H1366.5V746.5H1370.5V825.5H1373.5V794.5H1375.5V825.5H1385.5V757.5H1387.5V825.5H1439.5V774.5H1440.5V825.5H1445.5V819.5H1447.5V825.5H1454.5V787.5H1456.5V825.5H1474.5V736H1474.5V825.5H1485.5V819.5H1486.5V767.5H1487.5V783.5H1489.5V739.5H1490.5V674.5H1491.5V783.5H1494.5V636.5H1495.5V825.5H1496.5V776.5H1497.5V771.5H1498.5V825.5H1499.5V796.5H1500.5V761.5H1502.5V753H1502.5V789.5H1503.5V782.5H1504.5V825.5H1509.5V822.5H1511.5V825.5H1517.5V775.5H1518.5V825.5H1521.5V643.5H1522.5V636.5H1531.5V654.5H1532.5V636.5H1533.5V698.5H1534.5V718.5H1538.5V640.5H1539.5V686.5H1540.5V657.5H1541.5V648.5H1542.5V636.5H1543.5V678.5H1544.5V667.5H1545.5V679.5H1546.5V642.5H1547.5V711H1547.5V636.5H1553.5V640.5H1555.5V647.5H1556.5V639.5H1557.5V733H1557.5V682.5H1559.5V736.5H1561.5V681.5H1562.5V665.5H1563.5V636.5H1565.5V649.5H1567.5V695.5H1568.5V825.5H1570.5V679.5H1571.5V720.5H1572.5V710.5H1573.5V825.5H1574.5V681.5H1576.5V705.5H1577.5V636H1577.5V752.5H1578.5V718.5H1580.5V712.5H1581.5V730.5H1583.5V683.5H1584.5V748.5H1585.5V750.5H1586.5V663.5H1587.5V658H1587.5V678.5H1589.5V665.5H1590.5V662.5H1591.5V672.5H1592.5V677.5H1594.5V655.5H1595.5V664.5H1596.5V636.5H1600.5V670.5H1602.5V636.5H1608.5V679.5H1609.5V636.5H1613.5V696.5H1614.5V825.5H1615.5V636.5H1618.5V638.5H1619.5V636.5H1620.5V810.5H1621.5V825.5H1625.5V811.5H1627.5V801.5H1629.5V825.5H1631.5V736.5H1632.5V795.5H1635.5V730H1635.5V749.5H1637.5V825.5H1639.5V795.5H1640.5V825.5H1646.5V659.5H1657.5V741.5H1658.5V701.5H1661.5V743.5H1664.5V825.5H1669.5V742.5H1673.5V714.5H1675.5V691.5H1677.5V742.5H1678.5V753.5H1680.5V690.5H1683.5V776.5H1685.5V692.5H1686.5V747.5H1687.5V704.5H1689.5V664.5H1696.5V723.5H1697.5V825.5H1699.5V676.5H1701.5V825.5H1704.5V739.5H1707.5V825.5H1709.5V759.5H1711.5V825.5H1712.5V728.5H1713.5V705.5H1714.5V665.5H1716.5V731.5H1718.5V710.5H1720.5V704.5H1722.5V713.5H1723.5V738.5H1727.5V825.5H1728.5V744.5H1730.5V822.5H1732.5V792.5H1734.5V825.5H1738.5V678.5H1740.5V825.5H1742.5V822.5H1744.5V825.5H1751.5V716.5H1752.5V825.5H1758.5V747.5H1759.5V729.5H1760.5V666.5H1762.5V825.5H1769.5V716.5H1770.5V739.5H1773.5V825.5H1776.5V662.5H1777.5V825.5H1782.5V707.5H1785.5V825.5H1789.5V799.5H1790.5V712.5H1793.5V825.5H1797.5V815.5H1799.5V825.5H1801.5V802.5H1803.5V731.5H1808.5V771.5H1812.5V825.5H1818.5V778.5H1820.5V688.5H1823.5V757.5H1826.5V773.5H1828.5V782.5H1830.5V803.5H1833.5V796.5H1835.5V690.5H1842.5V725.5H1847.5V782.5H1850.5V799.5H1851.5V825.5H1855.5V781.5H1857.5V729.5H1860.5V825.5H1862.5V794.5H1863.5V785.5H1865.5V808.5H1866.5V825.5H1868.5V710.5H1875.5V682.5H1878.5V693.5H1879.5V734.5H1880.5V770.5H1881.5V749.5H1885.5V688.5H1886.5V746.5H1887.5V739.5H1888.5V739.5H1892.5V717.5H1894.5V724.5H1895.5V728.5H1896.5V825.5H1898.5V787.5H1899.5V825.5H1900.5V752.5H1902.5V763.5H1905.5V803H1905.5V732.5H1907.5V733.5H1908.5V767.5H1911.5V743.5H1913.5V739.5H1914.5V804.5H1915.5V760.5H1916.5V762.5H1918.5V731.5H1919.5V781.5H1920.5V742.5H1921.5V724.5H1922.5V795.5H1924.5V743.5H1925.5V705.5H1926.5V738.5H1927.5V760.5H1928.5V742.5H1930.5V718.5H1933.5V764.5H1934.5V755.5H1936.5V740.5H1938.5V755.5H1939.5V741.5H1940.5V783.5H1941.5V694.5H1942.5V721.5H1943.5V685.5H1944.5V791.5H1945.5V736.5H1946.5V825.5H1947.5V733.5H1948.5V825.5H1949.5V736.5H1950.5V685.5H1951.5V766.5H1952.5V776.5H1953.5V704.5H1954.5V825.5H1955.5V752.5H1956.5V717.5H1958.5V770.5H1959.5V739.5H1960.5V740.5H1961.5V712.5H1962.5V742.5H1964.5V782.5H1966.5V732.5H1967.5V692.5H1968.5V700.5H1969.5V795.5H1970.5V736.5H1972.5V825.5H1973.5V697.5H1974.5V723.5H1975.5V826H1975.5V788.5H1976.5V660.5H1977.5V789.5H1978.5V717.5H1979.5V790.5H1980.5V776.5H1981.5V825.5H1982.5V768.5H1983.5V764.5H1984.5V737.5H1985.5V702.5H1987.5V636.5H1988.5V726.5H1989.5V727.5H1992.5V825.5H1993.5V811.5H1994.5V735.5H1995.5V731.5H1996.5V736.5H1997.5V807.5H1998.5V733.5H1999.5V736.5H2000.5V733.5H2001.5V825.5H2002.5V734.5H2003.5V733.5H2004.5V756.5H2005.5V731.5H2007.5V729.5H2009.5V677.5H2010.5V788.5H2011.5V825.5H2013.5V780.5H2016.5V786.5H2018.5V765.5H2020.5V769.5H2021.5V825.5H2022.5V776.5H2023.5V724.5H2027.5V793.5H2028.5V825.5H2029.5V743.5H2030.5V773.5H2031.5V761.5H2032.5V825.5H2033.5V784.5H2034.5V825.5H2035.5V773.5H2036.5V775.5H2037.5V697.5H2042.5V756.5H2043.5V797.5H2044.5V755.5H2045.5V695.5H2046.5V709.5H2047.5V741.5H2049.5V714.5H2050.5V729.5H2051.5V719.5H2052.5V709.5H2053.5V738.5H2054.5V707.5H2055.5V684.5H2056.5V696.5H2058.5V703H2058.5V691.5H2060.5V696.5H2061.5V727.5H2062.5V724.5H2063.5V685.5H2064.5V734.5H2065.5V769.5H2066.5V731.5H2067.5V700.5H2069.5V636.5H2072.5V686.5H2074.5V678.5H2075.5V742.5H2076.5V684.5H2077.5V676.5H2078.5V692.5H2078.5V717.5H2079.5V737.5H2080.5V724.5H2081.5V636.5H2082.5V825.5H2083.5V816.5H2084.5V693.5H2088.5V722.5H2089.5V742.5H2091.5V757.5H2092.5V825.5H2093.5V726.5H2094.5V747.5H2095.5V731.5H2096.5V719.5H2097.5V739.5H2099.5V826H2099.5V735.5H2101.5V788.5H2102.5V825.5H2108.5V813.5H2109.5V825.5H2112.5V807.5H2114.5V825.5H2120.5V778.5H2121.5V817.5H2124.5V794.5H2128.5V825.5H2130.5V660H2130.5V825.5H2133.5V814.5H2135.5V825.5H2156.5V778.5H2157.5V825.5H2161.5V636.5H2163.5V741.5H2164.5V825.5H2167.5V636.5H2168.5V740.5H2169.5V639.5H2170.5V825.5H2178.5V773.5H2179.5V825.5H2185.5V782.5H2187.5V729.5H2188.5V782.5H2189.5V749.5H2191.5V636.5H2192.5V692.5H2194.5V742.5H2195.5V741.5H2196.5V825.5H2197.5V636.5H2198.5V792.5H2200.5V825.5H2203.5V749.5H2205.5V750.5H2208.5V776.5H2208.5V825.5H2218.5V733.5H2223.5V667.5H2226.5V775.5H2227.5V810.5H2228.5V782.5H2229.5V825.5H2230.5V731.5H2231.5V682.5H2232.5V740.5H2234.5V825.5H2235.5V782.5H2236.5V734H2236.5V755.5H2238.5V825.5H2240.5V721.5H2241.5V746.5H2242.5V717.5H2243.5V825.5H2245.5V685.5H2246.5V769.5H2249.5V826H2249.5V735.5H2250.5V716.5H2252.5V735.5H2255.5V704.5H2256.5V721.5H2285.5V731.5H2287.5V744.5H2288.5V720.5H2289.5V691.5H2297.5V691.5H2298.5V732.5H2299.5V750.5H2300.5V730.5H2302.5V746.5H2303.5V783.5H2305.5V732H2305.5V734.5H2306.5V723.5H2308.5V802.5H2309.5V737.5H2310.5V722H2310.5V775.5H2312.5V826H2312.5V740.5H2314.5V825.5H2315.5V730.5H2316.5V825.5H2317.5V747.5H2318.5V826H2318.5V747.5H2319.5V773.5H2319.5V825.5H2320.5V773.5H2321.5V736H2321.5V784.5H2322.5V825.5H2323.5V761H2323.5V825.5H2324.5V736.5H2325.5V723.5H2326.5V715.5H2334.5V736.5H2334.5V785.5H2335.5V744.5H2336.5V767.5H2337.5V750.5H2338.5V737.5H2340.5V736.5H2341.5V742.5H2342.5V776.5H2344.5V738.5H2348.5V758.5H2349.5V825.5H2350.5V795.5H2351.5V750.5H2352.5V804.5H2353.5V766H2353.5V782.5H2355.5V763.5H2358.5V788.5H2359.5V770.5H2360.5V763.5H2361.5V752.5H2364.5V780.5H2365.5V826H2365.5V780.5H2367.5V823.5H2368.5V788.5H2370.5V736.5H2372.5V748H2372.5V736.5H2377.5V773.5H2379.5V761H2379.5V779.5H2388.5V804.5H2391.5V825.5H2394.5V776.5H2395.5V764.5H2397.5V792.5H2398.5V825.5H2399.5V765.5H2400.5V751.5H2401.5V795.5H2402.5V751.5H2403.5V770.5H2406.5V786.5H2407.5V743.5H2408.5V826H2408.5V744.5H2411.5V765.5H2413.5V766.5H2413.5V771.5H2414.5V825.5H2420.5V764.5H2421.5V825.5H2422.5V772.5H2423.5V789.5H2424.5V768H2424.5V825.5H2427.5V746.5H2428.5V825.5H2430.5V770.5H2435.5V739.5H2439.5V733.5H2441.5V751.5H2442.5V758.5H2443.5V759.5H2444.5V779.5H2445.5V787.5H2446.5V740.5H2450.5V825.5H2451.5V808.5H2452.5V825.5H2453.5V812.5H2455.5V789H2455.5V825.5H2456.5V739.5H2457.5V794.5H2459.5V803.5H2460.5V766.5H2462.5V761.5H2463.5V825.5H2465.5V756.5H2466.5V746.5H2467.5V825.5H2468.5V773.5H2469.5V744.5H2470.5V825.5H2471.5V768.5H2473.5V766.5H2474.5V796.5H2475.5V769.5H2477.5V721.5H2478.5V749.5H2479.5V761.5H2480.5V740.5H2482.5V796.5H2486.5V774.5H2487.5V825.5H2488.5V758.5H2490.5V788.5H2493.5V783.5H2495.5V737.5H2497.5V750.5H2499.5V803.5H2500.5V809H2500.5V758.5H2501.5V825.5H2506.5V770.5H2508.5V825.5H2510.5V823.5H2512.5V742H2512.5V823.5H2513.5V825.5H2517.5V770.5H2521.5V729.5H2522.5V776.5H2524.5V771.5H2525.5V825.5H2526.5V766.5H2528.5V770.5H2529.5V819.5H2531.5V756.5H2533.5V735.5H2534.5V750.5H2535.5V799H2535.5V751.5H2536.5V793.5H2539.5V750.5H2540.5V768.5H2541.5V709.5H2546.5V825.5H2548.5V764.5H2549.5V733.5H2550.5V739.5H2552.5V756.5H2553.5V825.5H2556.5V774.5H2557.5V804.5H2559.5V825.5H2564.5V765.5H2564.5V764.5H2567.5V786.5H2568.5V825.5H2571.5V783.5H2572.5V758.5H2574.5V737H2574.5V825.5H2576.5V724.5H2578.5V825.5H2581.5V788H2581.5V825.5H2586.5V761H2586.5V785.5H2588.5V825.5H2589.5V777.5H2590.5V825.5H2591.5V777.5H2592.5V784.5H2593.5V825.5H2595.5V770.5H2597.5V746.5H2597.5V745.5H2600.5V825.5H2602.5V738H2602.5V825.5H2604.5V801.5H2607.5V781.5H2608.5V825.5H2610.5V800.5H2613.5V825.5H2619.5V752.5H2621.5V788.5H2622.5V739.5H2623.5V786.5H2624.5V742.5H2626.5V825.5H2628.5V759.5H2630.5V825.5H2632.5V740.5H2633.5V753.5H2634.5V825.5H2636.5V747.5H2639.5V731.5H2640.5V729.5H2641.5V736.5H2643.5V825.5H2644.5V732.5H2646.5V734.5H2651.5V736.5H2652.5V758.5H2653.5V825.5H2654.5V729.5H2655.5V764.5H2658.5V759.5H2659.5V804.5H2660.5V724.5H2662.5V763.5H2664.5V783.5H2665.5V775.5H2667.5V772.5H2668.5V764.5H2669.5V750.5H2671.5V825.5H2672.5V743.5H2674.5V739H2674.5V777.5H2676.5V825.5H2679.5V705.5H2688.5V722.5H2695.5V766.5H2696.5V825.5H2697.5V792.5H2699.5V773.5H2700.5V750.5H2702.5V825.5H2705.5V751.5H2706.5V825.5H2708.5V801.5H2711.5V782.5H2714.5V715.5H2715.5V746.5H2725.5V825.5H2728.5V811.5H2730.5V772.5H2735.5V679.5H2737.5V691.5H2738.5V710.5H2741.5V762.5H2742.5V763.5H2742.5V825.5H2757.5V737.5H2759.5V753.5H2766.5V825.5H2925.5V815.5H2927.5V825.5H2937.5V720.5H2938.5" fill="none" stroke="rgb(75,0,130)" stroke-width="1"/>
<path shape-rendering="crispEdges" d="M120,1109.5H128.5V1107.5H130.5V1109.5H130.5V1107.5H133.5V1109.5H144.5V1107.5H145.5V1109.5H159.5V1107.5H165.5V1109.5H169.5V1107.5H176.5V1109.5H178.5V1107.5H183.5V1109.5H183.5V1108.5H188.5V1109.5H194.5V1107.5H196.5V1109.5H196.5V1107.5H208.5V1109.5H209.5V1107.5H214.5V1109.5H223.5V1107.5H224.5V1109.5H256.5V1107.5H264.5V1109.5H273.5V1107.5H275.5V1109.5H275.5V1107.5H279.5V1109.5H287.5V1107.5H287.5V1109.5H301.5V1107.5H303.5V1109.5H308.5V1107.5H309.5V1109.5H311.5V1107.5H312.5V1109.5H313.5V1107.5H313.5V1109.5H316.5V1107.5H318.5V1109.5H331.5V1107.5H332.5V1109.5H348.5V1108.5H350.5V1109.5H365.5V1107.5H369.5V1109.5H376.5V1107.5H377.5V1109.5H385.5V1107.5H388.5V1109.5H388.5V1107.5H391.5V1109.5H399.5V1108.5H403.5V1109.5H410.5V1107.5H411.5V1109.5H594.5V1107.5H594.5V1109.5H1085.5V1107.5H1087.5V1109.5H1147.5V1107.5H1147.5V1109.5H1150.5V1107.5H1150.5V1109.5H1154.5V1107.5H1154.5V1109.5H1219.5V1107.5H1221.5V1109.5H1231.5V1107.5H1231.5V1109.5H1248.5V1107.5H1248.5V1109.5H1253.5V1107.5H1253.5V1109.5H1258.5V1107.5H1258.5V1109.5H1281.5V1107.5H1281.5V1109.5H1287.5V1107.5H1287.5V1109.5H1293.5V1107.5H1293.5V1109.5H1325.5V1107.5H1327.5V1109.5H1337.5V1107.5H1339.5V1109.5H1400.5V1107.5H1400.5V1109.5H1406.5V1108.5H1406.5V1109.5H1415.5V1107.5H1415.5V1109.5H1443.5V1108.5H1443.5V1109.5H1457.5V1107.5H1457.5V1109.5H1465.5V1108.5H1465.5V1109.5H1469.5V1107.5H1469.5V1109.5H1476.5V1107.5H1476.5V1109.5H1545.5V1107.5H1547.5V1109.5H1621.5V1107.5H1623.5V1109.5H1625.5V1107.5H1625.5V1109.5H1674.5V1107.5H1676.5V1109.5H1678.5V1107.5H1680.5V1109.5H1688.5V1107.5H1688.5V1109.5H1697.5V1107.5H1699.5V1109.5H1701.5V1107.5H1703.5V1109.5H1712.5V1107.5H1712.5V1109.5H1714.5V1107.5H1723.5V1109.5H1830.5V1107.5H1833.5V1109.5H1850.5V1107.5H1853.5V1109.5H1855.5V1108.5H1857.5V1109.5H1862.5V1107.5H1866.5V1109.5H1945.5V1107.5H1945.5V1109.5H1967.5V1107.5H1970.5V1109.5H2095.5V1107.5H2095.5V1109.5H2097.5V1107.5H2097.5V1109.5H2102.5V1107.5H2102.5V1109.5H2160.5V1107.5H2160.5V1109.5H2179.5V1108.5H2179.5V1109.5H2237.5V1108.5H2237.5V1109.5H2243.5V1107.5H2243.5V1109.5H2302.5V1107.5H2302.5V1109.5H2304.5V1107.5H2304.5V1109.5H2317.5V1107.5H2320.5V1109.5H2322.5V1107.5H2323.5V1109.5H2406.5V1107.5H2406.5V1109.5H2503.5V1107.5H2505.5V1109.5H2507.5V1107.5H2517.5V1109.5H2521.5V1107.5H2536.5V1109.5H2538.5V1107.5H2551.5V1109.5H2551.5V1107.5H2583.5V1109.5H2585.5V1107.5H2589.5V1109.5H2589.5V1107.5H2625.5V1109.5H2626.5V1107.5H2629.5V1109.5H2629.5V1107.5H2643.5V1109.5H2643.5V1107.5H2653.5V1109.5H2653.5V1107.5H2655.5V1109.5H2656.5V1107.5H2661.5V1109.5H2663.5V1107.5H2673.5V1109.5H2673.5V1107.5H2708.5V1109.5H2710.5V1107.5H2731.5V1109.5H2734.5V1107.5H2739.5V1109.5H2747.5V1107.5H2759.5V1109.5H2939V1110H120Z" fill="#000" fill-opacity="0.5" stroke="none"/>
<path shape-rendering="crispEdges" d="M120.5,1109.5H128.5V1107.5H130.5V1110H130.5V1107.5H133.5V1109.5H144.5V1107.5H145.5V1109.5H159.5V1107.5H165.5V1109.5H169.5V1107.5H176.5V1109.5H178.5V1107.5H183.5V1110H183.5V1108.5H188.5V1109.5H194.5V1107.5H196.5V1110H196.5V1107.5H208.5V1109.5H209.5V1107.5H214.5V1109.5H223.5V1107.5H224.5V1109.5H256.5V1107.5H264.5V1109.5H273.5V1107.5H275.5V1110H275.5V1107.5H279.5V1109.5H287.5V1107H287.5V1109.5H301.5V1107.5H303.5V1109.5H308.5V1107.5H309.5V1109.5H311.5V1107.5H312.5V1109.5H313.5V1107H313.5V1109.5H316.5V1107.5H318.5V1109.5H331.5V1107.5H332.5V1109.5H348.5V1108.5H350.5V1109.5H365.5V1107.5H369.5V1109.5H376.5V1107.5H377.5V1109.5H385.5V1107.5H388.5V1110H388.5V1107.5H391.5V1109.5H399.5V1108.5H403.5V1109.5H410.5V1107.5H411.5V1109.5H594.5V1107H594.5V1109.5H1085.5V1107.5H1087.5V1109.5H1147.5V1107H1147.5V1109.5H1150.5V1107H1150.5V1109.5H1154.5V1107H1154.5V1109.5H1219.5V1107.5H1221.5V1109.5H1231.5V1107H1231.5V1109.5H1248.5V1107H1248.5V1109.5H1253.5V1107H1253.5V1109.5H1258.5V1107H1258.5V1109.5H1281.5V1107H1281.5V1109.5H1287.5V1107H1287.5V1109.5H1293.5V1107H1293.5V1109.5H1325.5V1107.5H1327.5V1109.5H1337.5V1107.5H1339.5V1109.5H1400.5V1107H1400.5V1109.5H1406.5V1108H1406.5V1109.5H1415.5V1107H1415.5V1109.5H1443.5V1108H1443.5V1109.5H1457.5V1107H1457.5V1109.5H1465.5V1108H1465.5V1109.5H1469.5V1107H1469.5V1109.5H1476.5V1107H1476.5V1109.5H1545.5V1107.5H1547.5V1109.5H1621.5V1107.5H1623.5V1109.5H1625.5V1107H1625.5V1109.5H1674.5V1107.5H1676.5V1109.5H1678.5V1107.5H1680.5V1109.5H1688.5V1107H1688.5V1109.5H1697.5V1107.5H1699.5V1109.5H1701.5V1107.5H1703.5V1109.5H1712.5V1107H1712.5V1109.5H1714.5V1107.5H1723.5V1109.5H1830.5V1107.5H1833.5V1109.5H1850.5V1107.5H1853.5V1109.5H1855.5V1108.5H1857.5V1109.5H1862.5V1107.5H1866.5V1109.5H1945.5V1107H1945.5V1109.5H1967.5V1107.5H1970.5V1109.5H2095.5V1107H2095.5V1109.5H2097.5V1107H2097.5V1109.5H2102.5V1107H2102.5V1109.5H2160.5V1107H2160.5V1109.5H2179.5V1108H2179.5V1109.5H2237.5V1108H2237.5V1109.5H2243.5V1107H2243.5V1109.5H2302.5V1107H2302.5V1109.5H2304.5V1107H2304.5V1109.5H2317.5V1107.5H2320.5V1109.5H2322.5V1107.5H2323.5V1109.5H2406.5V1107H2406.5V1109.5H2503.5V1107.5H2505.5V1109.5H2507.5V1107.5H2517.5V1109.5H2521.5V1107.5H2536.5V1109.5H2538.5V1107.5H2551.5V1110H2551.5V1107.5H2583.5V1109.5H2585.5V1107.5H2589.5V1110H2589.5V1107.5H2625.5V1109.5H2626.5V1107.5H2629.5V1110H2629.5V1107.5H2643.5V1110H2643.5V1107.5H2653.5V1110H2653.5V1107.5H2655.5V1109.5H2656.5V1107.5H2661.5V1109.5H2663.5V1107.5H2673.5V1110H2673.5V1107.5H2708.5V1109.5H2710.5V1107.5H2731.5V1109.5H2734.5V1107.5H2739.5V1109.5H2747.5V1107.5H2759.5V1109.5H2938.5" fill="none" stroke="#000" stroke-width="1"/>
<g shape-rendering="crispEdges" stroke="#000" stroke-width="1" fill="none">
<path d="M119.5,162V1111"/>
<path d="M119,1110.5H2940"/>
<path d="M114,1089.5H119"/>
<path d="M114,1050.5H119"/>
<path d="M114,998.5H119"/>
<path d="M114,968.5H119"/>
<path d="M114,918.5H119"/>
<path d="M114,875.5H119"/>
<path d="M114,826.5H119"/>
<path d="M114,753.5H119"/>
<path d="M114,693.5H119"/>
<path d="M114,628.5H119"/>
<path d="M114,561.5H119"/>
<path d="M114,492.5H119"/>
<path d="M114,450.5H119"/>
<path d="M114,398.5H119"/>
<path d="M114,326.5H119"/>
<path d="M114,255.5H119"/>
<path d="M114,162.5H119"/>
<path d="M120.5,1111V1116"/>
<path d="M351.5,1111V1116"/>
<path d="M582.5,1111V1116"/>
<path d="M814.5,1111V1116"/>
<path d="M1045.5,1111V1116"/>
<path d="M1277.5,1111V1116"/>
<path d="M1508.5,1111V1116"/>
<path d="M1740.5,1111V1116"/>
<path d="M1971.5,1111V1116"/>
<path d="M2203.5,1111V1116"/>
<path d="M2434.5,1111V1116"/>
<path d="M2666.5,1111V1116"/>
<path d="M2897.5,1111V1116"/>
</g>
<g font-size="17.7" fill="#000">
<text x="109.5" y="1094.5" text-anchor="end">0.01</text>
<text x="109.5" y="1055.5" text-anchor="end">0.1</text>
<text x="109.5" y="1003.5" text-anchor="end">0.5</text>
<text x="109.5" y="973.5" text-anchor="end">1</text>
<text x="109.5" y="923.5" text-anchor="end">2.5</text>
<text x="109.5" y="880.5" text-anchor="end">5</text>
<text x="109.5" y="831.5" text-anchor="end">10</text>
<text x="109.5" y="758.5" text-anchor="end">25</text>
<text x="109.5" y="698.5" text-anchor="end">50</text>
<text x="109.5" y="633.5" text-anchor="end">100</text>
<text x="109.5" y="566.5" text-anchor="end">200</text>
<text x="109.5" y="497.5" text-anchor="end">400</text>
<text x="109.5" y="455.5" text-anchor="end">600</text>
<text x="109.5" y="403.5" text-anchor="end">1000</text>
<text x="109.5" y="331.5" text-anchor="end">2000</text>
<text x="109.5" y="260.5" text-anchor="end">4000</text>
<text x="109.5" y="167.5" text-anchor="end">10000</text>
<text x="120.5" y="1134" text-anchor="middle">0</text>
<text x="351.5" y="1134" text-anchor="middle">20000</text>
<text x="582.5" y="1134" text-anchor="middle">40000</text>
<text x="814.5" y="1134" text-anchor="middle">60000</text>
<text x="1045.5" y="1134" text-anchor="middle">80000</text>
<text x="1277.5" y="1134" text-anchor="middle">100000</text>
<text x="1508.5" y="1134" text-anchor="middle">120000</text>
<text x="1740.5" y="1134" text-anchor="middle">140000</text>
<text x="1971.5" y="1134" text-anchor="middle">160000</text>
<text x="2203.5" y="1134" text-anchor="middle">180000</text>
<text x="2434.5" y="1134" text-anchor="middle">200000</text>
<text x="2666.5" y="1134" text-anchor="middle">220000</text>
<text x="2897.5" y="1134" text-anchor="middle">240000</text>
</g>
<g font-size="19.35" fill="#000">
<text x="1530.5" y="1166" text-anchor="middle">frames</text>
<text transform="translate(74.5,636.5) rotate(-90)" text-anchor="middle">nits (cd/m²)</text>
<text x="120" y="71.5" font-size="20">John Wick Chapter 4 (2023) [UHD FEL]</text>
<text x="120" y="96.5">Frames: 243552. Profile: 7 (FEL). Scenes: 2248. DM version: 1 (CM v2.9).</text>
<text x="120" y="121.5">RPU mastering display: 0.0001/1000 nits</text>
<text x="120" y="146.5">L6 metadata: Mastering display: 0.0001/1000 nits. MaxCLL: 1252 nits, MaxFALL: 630 nits</text>
<text x="2623.5" y="87.5" font-size="20">L5: R=0, L=0, T=276, B=276</text>
<text x="2939.5" y="146.5" text-anchor="end">L2 trims: 100 nits, 600 nits, 1000 nits</text>
</g>
<text x="1500" y="60" font-size="32.2" text-anchor="middle" fill="#000">Dolby Vision Level 1 Plot</text>
<rect shape-rendering="crispEdges" x="125.5" y="1006.5" width="487" height="99" fill="#fff" stroke="#000" stroke-width="1"/>
<g shape-rendering="crispEdges">
<rect x="135" y="1024" width="20" height="3" fill="rgb(65,105,225)"/>
<rect x="135" y="1054" width="20" height="3" fill="rgb(75,0,130)"/>
<rect x="135" y="1084" width="20" height="3" fill="#000"/>
</g>
<g font-size="19.35" fill="#000">
<text x="165" y="1030.6">Maximum (MaxCLL: 1483.77 nits, avg: 538.74 nits)</text>
<text x="165" y="1060.6">Average (MaxFALL: 102.57 nits, avg: 20.82 nits)</text>
<text x="165" y="1090.6">Minimum (max: 0.000262 nits)</text>
</g>
</svg></body></html>
